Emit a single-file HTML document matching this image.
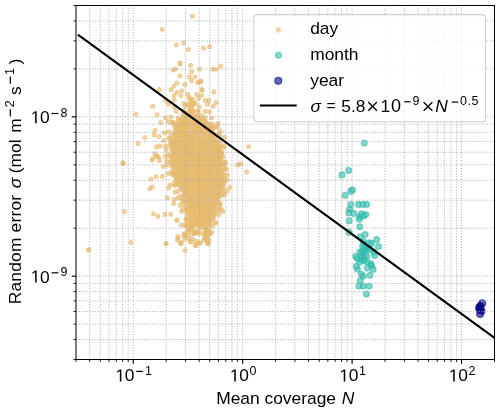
<!DOCTYPE html><html><head><meta charset="utf-8"><style>html,body{margin:0;padding:0;background:#fff;width:500px;height:413px;overflow:hidden}svg{display:block;will-change:transform}text{font-family:"Liberation Sans",sans-serif;fill:#000}</style></head><body><svg width="500" height="413" viewBox="0 0 500 413"><rect x="0" y="0" width="500" height="413" fill="#fff"/><g fill="rgb(232,189,114)" fill-opacity="0.6" stroke="rgb(232,189,114)" stroke-opacity="0.6" stroke-width="1.3"><circle cx="202.0" cy="217.1" r="1.9"/><circle cx="186.1" cy="143.6" r="1.9"/><circle cx="188.1" cy="162.6" r="1.9"/><circle cx="166.7" cy="160.8" r="1.9"/><circle cx="186.9" cy="149.6" r="1.9"/><circle cx="204.3" cy="133.4" r="1.9"/><circle cx="191.6" cy="153.6" r="1.9"/><circle cx="189.1" cy="152.3" r="1.9"/><circle cx="193.0" cy="213.8" r="1.9"/><circle cx="199.0" cy="179.1" r="1.9"/><circle cx="192.7" cy="154.3" r="1.9"/><circle cx="196.0" cy="133.6" r="1.9"/><circle cx="198.3" cy="122.5" r="1.9"/><circle cx="207.7" cy="168.1" r="1.9"/><circle cx="199.0" cy="178.9" r="1.9"/><circle cx="205.7" cy="143.6" r="1.9"/><circle cx="179.3" cy="148.6" r="1.9"/><circle cx="207.1" cy="148.1" r="1.9"/><circle cx="195.9" cy="161.7" r="1.9"/><circle cx="219.8" cy="151.3" r="1.9"/><circle cx="198.2" cy="165.1" r="1.9"/><circle cx="217.0" cy="188.7" r="1.9"/><circle cx="186.4" cy="132.3" r="1.9"/><circle cx="192.6" cy="202.0" r="1.9"/><circle cx="199.1" cy="152.2" r="1.9"/><circle cx="190.3" cy="157.3" r="1.9"/><circle cx="177.6" cy="134.5" r="1.9"/><circle cx="198.7" cy="216.0" r="1.9"/><circle cx="190.6" cy="107.0" r="1.9"/><circle cx="199.0" cy="131.1" r="1.9"/><circle cx="203.2" cy="132.8" r="1.9"/><circle cx="211.7" cy="200.1" r="1.9"/><circle cx="202.4" cy="159.2" r="1.9"/><circle cx="217.5" cy="195.4" r="1.9"/><circle cx="188.3" cy="135.2" r="1.9"/><circle cx="214.1" cy="172.3" r="1.9"/><circle cx="192.2" cy="110.5" r="1.9"/><circle cx="209.3" cy="187.7" r="1.9"/><circle cx="191.0" cy="135.4" r="1.9"/><circle cx="199.8" cy="203.9" r="1.9"/><circle cx="213.5" cy="217.6" r="1.9"/><circle cx="183.9" cy="171.6" r="1.9"/><circle cx="204.2" cy="202.0" r="1.9"/><circle cx="210.3" cy="145.0" r="1.9"/><circle cx="195.8" cy="155.1" r="1.9"/><circle cx="196.7" cy="188.8" r="1.9"/><circle cx="179.3" cy="154.5" r="1.9"/><circle cx="202.0" cy="192.0" r="1.9"/><circle cx="196.1" cy="143.7" r="1.9"/><circle cx="198.7" cy="159.1" r="1.9"/><circle cx="174.2" cy="142.3" r="1.9"/><circle cx="190.6" cy="198.0" r="1.9"/><circle cx="177.6" cy="152.6" r="1.9"/><circle cx="190.5" cy="210.3" r="1.9"/><circle cx="211.5" cy="128.1" r="1.9"/><circle cx="215.5" cy="151.5" r="1.9"/><circle cx="183.7" cy="150.8" r="1.9"/><circle cx="187.3" cy="189.0" r="1.9"/><circle cx="217.5" cy="185.0" r="1.9"/><circle cx="216.8" cy="173.3" r="1.9"/><circle cx="194.5" cy="191.2" r="1.9"/><circle cx="176.1" cy="155.1" r="1.9"/><circle cx="218.7" cy="194.7" r="1.9"/><circle cx="182.8" cy="134.7" r="1.9"/><circle cx="175.3" cy="166.7" r="1.9"/><circle cx="189.1" cy="159.5" r="1.9"/><circle cx="192.1" cy="150.1" r="1.9"/><circle cx="182.5" cy="189.3" r="1.9"/><circle cx="210.9" cy="220.9" r="1.9"/><circle cx="185.2" cy="180.5" r="1.9"/><circle cx="214.3" cy="199.3" r="1.9"/><circle cx="193.2" cy="166.7" r="1.9"/><circle cx="180.8" cy="134.8" r="1.9"/><circle cx="211.8" cy="212.2" r="1.9"/><circle cx="195.5" cy="133.5" r="1.9"/><circle cx="190.3" cy="150.6" r="1.9"/><circle cx="177.3" cy="140.1" r="1.9"/><circle cx="211.3" cy="164.3" r="1.9"/><circle cx="201.0" cy="181.9" r="1.9"/><circle cx="200.6" cy="118.4" r="1.9"/><circle cx="207.6" cy="188.8" r="1.9"/><circle cx="190.0" cy="176.9" r="1.9"/><circle cx="206.1" cy="157.4" r="1.9"/><circle cx="194.5" cy="152.0" r="1.9"/><circle cx="211.6" cy="216.7" r="1.9"/><circle cx="176.1" cy="141.1" r="1.9"/><circle cx="192.6" cy="105.5" r="1.9"/><circle cx="194.8" cy="186.2" r="1.9"/><circle cx="212.6" cy="203.6" r="1.9"/><circle cx="192.4" cy="143.6" r="1.9"/><circle cx="206.1" cy="194.6" r="1.9"/><circle cx="190.6" cy="203.1" r="1.9"/><circle cx="200.4" cy="188.5" r="1.9"/><circle cx="188.5" cy="218.8" r="1.9"/><circle cx="218.2" cy="196.7" r="1.9"/><circle cx="198.3" cy="168.5" r="1.9"/><circle cx="192.1" cy="180.3" r="1.9"/><circle cx="209.2" cy="209.1" r="1.9"/><circle cx="197.7" cy="162.1" r="1.9"/><circle cx="188.4" cy="185.3" r="1.9"/><circle cx="190.2" cy="154.7" r="1.9"/><circle cx="177.8" cy="161.1" r="1.9"/><circle cx="181.0" cy="187.4" r="1.9"/><circle cx="217.4" cy="162.9" r="1.9"/><circle cx="208.1" cy="188.1" r="1.9"/><circle cx="194.8" cy="118.5" r="1.9"/><circle cx="203.5" cy="140.0" r="1.9"/><circle cx="214.9" cy="197.0" r="1.9"/><circle cx="201.2" cy="174.4" r="1.9"/><circle cx="188.2" cy="179.6" r="1.9"/><circle cx="200.4" cy="211.0" r="1.9"/><circle cx="169.9" cy="138.5" r="1.9"/><circle cx="194.5" cy="117.5" r="1.9"/><circle cx="211.6" cy="130.6" r="1.9"/><circle cx="208.1" cy="219.9" r="1.9"/><circle cx="188.5" cy="172.8" r="1.9"/><circle cx="209.1" cy="140.7" r="1.9"/><circle cx="199.7" cy="136.9" r="1.9"/><circle cx="178.5" cy="128.3" r="1.9"/><circle cx="194.7" cy="126.8" r="1.9"/><circle cx="203.8" cy="172.0" r="1.9"/><circle cx="181.6" cy="138.4" r="1.9"/><circle cx="191.6" cy="173.6" r="1.9"/><circle cx="199.4" cy="162.2" r="1.9"/><circle cx="216.4" cy="200.5" r="1.9"/><circle cx="192.9" cy="156.7" r="1.9"/><circle cx="198.5" cy="201.4" r="1.9"/><circle cx="194.1" cy="120.9" r="1.9"/><circle cx="212.0" cy="198.4" r="1.9"/><circle cx="173.9" cy="161.8" r="1.9"/><circle cx="198.3" cy="221.0" r="1.9"/><circle cx="180.6" cy="176.8" r="1.9"/><circle cx="198.1" cy="198.9" r="1.9"/><circle cx="200.8" cy="139.0" r="1.9"/><circle cx="190.7" cy="178.0" r="1.9"/><circle cx="171.9" cy="147.2" r="1.9"/><circle cx="218.4" cy="208.6" r="1.9"/><circle cx="205.1" cy="139.2" r="1.9"/><circle cx="187.0" cy="215.2" r="1.9"/><circle cx="195.9" cy="170.8" r="1.9"/><circle cx="206.8" cy="218.4" r="1.9"/><circle cx="213.0" cy="158.0" r="1.9"/><circle cx="186.4" cy="116.6" r="1.9"/><circle cx="194.5" cy="233.4" r="1.9"/><circle cx="191.3" cy="193.0" r="1.9"/><circle cx="218.0" cy="190.7" r="1.9"/><circle cx="201.7" cy="147.8" r="1.9"/><circle cx="180.0" cy="174.9" r="1.9"/><circle cx="180.6" cy="132.9" r="1.9"/><circle cx="207.0" cy="128.2" r="1.9"/><circle cx="174.5" cy="154.0" r="1.9"/><circle cx="209.9" cy="202.4" r="1.9"/><circle cx="191.9" cy="186.6" r="1.9"/><circle cx="210.6" cy="154.4" r="1.9"/><circle cx="189.1" cy="205.5" r="1.9"/><circle cx="202.6" cy="200.1" r="1.9"/><circle cx="186.4" cy="142.1" r="1.9"/><circle cx="177.7" cy="126.2" r="1.9"/><circle cx="207.1" cy="190.7" r="1.9"/><circle cx="190.3" cy="214.7" r="1.9"/><circle cx="204.3" cy="167.9" r="1.9"/><circle cx="192.8" cy="209.7" r="1.9"/><circle cx="197.4" cy="212.6" r="1.9"/><circle cx="180.7" cy="161.5" r="1.9"/><circle cx="215.0" cy="190.5" r="1.9"/><circle cx="174.2" cy="155.5" r="1.9"/><circle cx="179.1" cy="135.5" r="1.9"/><circle cx="183.0" cy="143.1" r="1.9"/><circle cx="200.4" cy="160.2" r="1.9"/><circle cx="207.4" cy="164.4" r="1.9"/><circle cx="198.7" cy="205.8" r="1.9"/><circle cx="222.5" cy="170.9" r="1.9"/><circle cx="187.8" cy="115.7" r="1.9"/><circle cx="189.9" cy="196.4" r="1.9"/><circle cx="189.2" cy="171.4" r="1.9"/><circle cx="192.0" cy="102.1" r="1.9"/><circle cx="186.8" cy="177.9" r="1.9"/><circle cx="200.8" cy="204.1" r="1.9"/><circle cx="204.1" cy="135.7" r="1.9"/><circle cx="208.8" cy="198.7" r="1.9"/><circle cx="206.3" cy="234.7" r="1.9"/><circle cx="190.3" cy="126.7" r="1.9"/><circle cx="187.5" cy="131.0" r="1.9"/><circle cx="184.8" cy="160.3" r="1.9"/><circle cx="196.0" cy="128.1" r="1.9"/><circle cx="198.2" cy="207.8" r="1.9"/><circle cx="215.2" cy="189.8" r="1.9"/><circle cx="182.5" cy="152.0" r="1.9"/><circle cx="184.1" cy="193.4" r="1.9"/><circle cx="197.0" cy="121.4" r="1.9"/><circle cx="197.8" cy="196.4" r="1.9"/><circle cx="182.9" cy="123.9" r="1.9"/><circle cx="203.6" cy="199.1" r="1.9"/><circle cx="184.8" cy="118.0" r="1.9"/><circle cx="186.0" cy="194.5" r="1.9"/><circle cx="187.4" cy="193.9" r="1.9"/><circle cx="172.7" cy="155.2" r="1.9"/><circle cx="202.6" cy="146.3" r="1.9"/><circle cx="188.2" cy="123.6" r="1.9"/><circle cx="209.6" cy="216.4" r="1.9"/><circle cx="201.8" cy="183.4" r="1.9"/><circle cx="191.5" cy="112.5" r="1.9"/><circle cx="210.7" cy="192.6" r="1.9"/><circle cx="188.8" cy="124.4" r="1.9"/><circle cx="179.4" cy="149.6" r="1.9"/><circle cx="173.2" cy="146.0" r="1.9"/><circle cx="215.5" cy="185.5" r="1.9"/><circle cx="209.1" cy="222.8" r="1.9"/><circle cx="204.6" cy="149.5" r="1.9"/><circle cx="213.1" cy="135.6" r="1.9"/><circle cx="183.1" cy="149.6" r="1.9"/><circle cx="212.7" cy="192.0" r="1.9"/><circle cx="218.4" cy="173.6" r="1.9"/><circle cx="178.6" cy="169.9" r="1.9"/><circle cx="215.3" cy="203.4" r="1.9"/><circle cx="217.5" cy="144.9" r="1.9"/><circle cx="199.3" cy="128.5" r="1.9"/><circle cx="200.2" cy="184.2" r="1.9"/><circle cx="214.6" cy="182.8" r="1.9"/><circle cx="215.1" cy="143.7" r="1.9"/><circle cx="194.1" cy="158.5" r="1.9"/><circle cx="223.7" cy="145.8" r="1.9"/><circle cx="210.1" cy="167.7" r="1.9"/><circle cx="214.2" cy="170.3" r="1.9"/><circle cx="212.6" cy="133.4" r="1.9"/><circle cx="202.2" cy="190.1" r="1.9"/><circle cx="191.5" cy="161.1" r="1.9"/><circle cx="184.0" cy="110.5" r="1.9"/><circle cx="173.4" cy="162.2" r="1.9"/><circle cx="172.5" cy="174.3" r="1.9"/><circle cx="183.3" cy="170.7" r="1.9"/><circle cx="209.2" cy="217.8" r="1.9"/><circle cx="208.0" cy="141.4" r="1.9"/><circle cx="199.9" cy="180.8" r="1.9"/><circle cx="195.2" cy="203.1" r="1.9"/><circle cx="191.2" cy="219.0" r="1.9"/><circle cx="196.7" cy="210.0" r="1.9"/><circle cx="220.1" cy="162.4" r="1.9"/><circle cx="195.1" cy="139.2" r="1.9"/><circle cx="177.8" cy="136.7" r="1.9"/><circle cx="222.2" cy="165.5" r="1.9"/><circle cx="206.1" cy="173.4" r="1.9"/><circle cx="190.0" cy="189.0" r="1.9"/><circle cx="203.5" cy="174.5" r="1.9"/><circle cx="188.8" cy="229.4" r="1.9"/><circle cx="196.0" cy="218.7" r="1.9"/><circle cx="210.5" cy="206.4" r="1.9"/><circle cx="218.5" cy="152.9" r="1.9"/><circle cx="212.4" cy="218.8" r="1.9"/><circle cx="201.5" cy="120.7" r="1.9"/><circle cx="206.4" cy="194.2" r="1.9"/><circle cx="201.7" cy="150.0" r="1.9"/><circle cx="201.5" cy="175.5" r="1.9"/><circle cx="177.6" cy="130.8" r="1.9"/><circle cx="196.1" cy="185.2" r="1.9"/><circle cx="199.8" cy="144.1" r="1.9"/><circle cx="175.8" cy="171.9" r="1.9"/><circle cx="190.7" cy="171.6" r="1.9"/><circle cx="208.1" cy="190.9" r="1.9"/><circle cx="206.4" cy="149.5" r="1.9"/><circle cx="176.3" cy="125.1" r="1.9"/><circle cx="203.8" cy="166.3" r="1.9"/><circle cx="192.2" cy="146.7" r="1.9"/><circle cx="216.5" cy="173.1" r="1.9"/><circle cx="187.2" cy="118.3" r="1.9"/><circle cx="200.1" cy="185.3" r="1.9"/><circle cx="190.9" cy="162.1" r="1.9"/><circle cx="216.2" cy="145.7" r="1.9"/><circle cx="203.7" cy="195.7" r="1.9"/><circle cx="217.1" cy="171.3" r="1.9"/><circle cx="214.1" cy="163.9" r="1.9"/><circle cx="170.9" cy="165.6" r="1.9"/><circle cx="184.4" cy="131.0" r="1.9"/><circle cx="192.5" cy="213.4" r="1.9"/><circle cx="187.9" cy="137.4" r="1.9"/><circle cx="202.0" cy="224.6" r="1.9"/><circle cx="171.5" cy="172.3" r="1.9"/><circle cx="188.7" cy="155.9" r="1.9"/><circle cx="206.0" cy="185.2" r="1.9"/><circle cx="214.5" cy="160.5" r="1.9"/><circle cx="206.3" cy="238.8" r="1.9"/><circle cx="210.2" cy="160.8" r="1.9"/><circle cx="213.9" cy="140.7" r="1.9"/><circle cx="203.3" cy="192.6" r="1.9"/><circle cx="183.0" cy="157.9" r="1.9"/><circle cx="177.9" cy="191.3" r="1.9"/><circle cx="201.0" cy="148.8" r="1.9"/><circle cx="217.2" cy="177.5" r="1.9"/><circle cx="192.8" cy="159.9" r="1.9"/><circle cx="189.2" cy="200.8" r="1.9"/><circle cx="204.1" cy="201.5" r="1.9"/><circle cx="227.6" cy="190.9" r="1.9"/><circle cx="219.0" cy="148.5" r="1.9"/><circle cx="184.5" cy="157.3" r="1.9"/><circle cx="201.5" cy="168.1" r="1.9"/><circle cx="197.4" cy="231.6" r="1.9"/><circle cx="202.3" cy="118.0" r="1.9"/><circle cx="217.5" cy="151.3" r="1.9"/><circle cx="170.0" cy="145.1" r="1.9"/><circle cx="208.2" cy="203.9" r="1.9"/><circle cx="193.4" cy="173.8" r="1.9"/><circle cx="201.7" cy="209.6" r="1.9"/><circle cx="189.3" cy="134.0" r="1.9"/><circle cx="183.0" cy="176.1" r="1.9"/><circle cx="208.6" cy="234.0" r="1.9"/><circle cx="206.9" cy="183.5" r="1.9"/><circle cx="214.6" cy="179.1" r="1.9"/><circle cx="188.6" cy="184.1" r="1.9"/><circle cx="172.8" cy="145.5" r="1.9"/><circle cx="200.6" cy="154.3" r="1.9"/><circle cx="210.2" cy="157.4" r="1.9"/><circle cx="215.0" cy="174.9" r="1.9"/><circle cx="209.9" cy="173.1" r="1.9"/><circle cx="181.2" cy="169.2" r="1.9"/><circle cx="169.0" cy="138.0" r="1.9"/><circle cx="196.4" cy="179.9" r="1.9"/><circle cx="222.3" cy="178.1" r="1.9"/><circle cx="185.9" cy="185.7" r="1.9"/><circle cx="191.9" cy="123.4" r="1.9"/><circle cx="213.8" cy="179.9" r="1.9"/><circle cx="208.0" cy="226.2" r="1.9"/><circle cx="203.2" cy="202.4" r="1.9"/><circle cx="212.8" cy="156.3" r="1.9"/><circle cx="180.9" cy="164.4" r="1.9"/><circle cx="212.0" cy="189.5" r="1.9"/><circle cx="189.8" cy="224.9" r="1.9"/><circle cx="186.7" cy="221.0" r="1.9"/><circle cx="216.9" cy="198.7" r="1.9"/><circle cx="215.6" cy="212.5" r="1.9"/><circle cx="181.7" cy="135.7" r="1.9"/><circle cx="213.6" cy="196.2" r="1.9"/><circle cx="213.0" cy="166.2" r="1.9"/><circle cx="203.5" cy="171.3" r="1.9"/><circle cx="205.7" cy="199.4" r="1.9"/><circle cx="186.1" cy="140.4" r="1.9"/><circle cx="193.3" cy="124.1" r="1.9"/><circle cx="192.4" cy="230.1" r="1.9"/><circle cx="208.1" cy="137.2" r="1.9"/><circle cx="200.9" cy="198.1" r="1.9"/><circle cx="205.3" cy="232.3" r="1.9"/><circle cx="208.8" cy="131.3" r="1.9"/><circle cx="199.8" cy="223.3" r="1.9"/><circle cx="179.1" cy="164.7" r="1.9"/><circle cx="192.7" cy="168.0" r="1.9"/><circle cx="217.5" cy="156.6" r="1.9"/><circle cx="209.8" cy="137.8" r="1.9"/><circle cx="186.7" cy="200.6" r="1.9"/><circle cx="187.3" cy="195.0" r="1.9"/><circle cx="175.5" cy="159.5" r="1.9"/><circle cx="227.5" cy="180.1" r="1.9"/><circle cx="218.6" cy="181.3" r="1.9"/><circle cx="187.4" cy="153.1" r="1.9"/><circle cx="177.2" cy="159.4" r="1.9"/><circle cx="199.6" cy="133.0" r="1.9"/><circle cx="217.3" cy="142.5" r="1.9"/><circle cx="173.5" cy="167.5" r="1.9"/><circle cx="175.2" cy="152.1" r="1.9"/><circle cx="189.6" cy="168.3" r="1.9"/><circle cx="187.6" cy="184.0" r="1.9"/><circle cx="175.1" cy="185.6" r="1.9"/><circle cx="174.9" cy="137.1" r="1.9"/><circle cx="179.6" cy="142.9" r="1.9"/><circle cx="198.2" cy="205.1" r="1.9"/><circle cx="179.5" cy="169.2" r="1.9"/><circle cx="222.4" cy="194.4" r="1.9"/><circle cx="190.3" cy="177.0" r="1.9"/><circle cx="203.8" cy="147.9" r="1.9"/><circle cx="215.9" cy="148.9" r="1.9"/><circle cx="218.2" cy="181.5" r="1.9"/><circle cx="209.6" cy="163.8" r="1.9"/><circle cx="196.8" cy="200.8" r="1.9"/><circle cx="201.0" cy="130.1" r="1.9"/><circle cx="211.2" cy="194.1" r="1.9"/><circle cx="184.8" cy="137.5" r="1.9"/><circle cx="197.9" cy="138.1" r="1.9"/><circle cx="171.5" cy="141.7" r="1.9"/><circle cx="212.7" cy="169.8" r="1.9"/><circle cx="190.0" cy="150.4" r="1.9"/><circle cx="212.6" cy="187.4" r="1.9"/><circle cx="219.2" cy="193.1" r="1.9"/><circle cx="210.2" cy="214.0" r="1.9"/><circle cx="193.2" cy="216.4" r="1.9"/><circle cx="201.4" cy="129.4" r="1.9"/><circle cx="198.1" cy="190.6" r="1.9"/><circle cx="204.9" cy="192.7" r="1.9"/><circle cx="207.3" cy="144.3" r="1.9"/><circle cx="188.4" cy="177.7" r="1.9"/><circle cx="200.1" cy="208.2" r="1.9"/><circle cx="210.8" cy="126.9" r="1.9"/><circle cx="224.7" cy="178.5" r="1.9"/><circle cx="191.7" cy="132.3" r="1.9"/><circle cx="192.3" cy="112.7" r="1.9"/><circle cx="202.8" cy="155.1" r="1.9"/><circle cx="208.8" cy="221.8" r="1.9"/><circle cx="207.3" cy="177.9" r="1.9"/><circle cx="190.6" cy="222.5" r="1.9"/><circle cx="183.6" cy="168.5" r="1.9"/><circle cx="215.7" cy="154.9" r="1.9"/><circle cx="208.4" cy="167.6" r="1.9"/><circle cx="177.5" cy="143.9" r="1.9"/><circle cx="199.6" cy="143.6" r="1.9"/><circle cx="195.3" cy="137.4" r="1.9"/><circle cx="194.8" cy="232.6" r="1.9"/><circle cx="215.8" cy="135.9" r="1.9"/><circle cx="210.8" cy="191.3" r="1.9"/><circle cx="190.2" cy="137.2" r="1.9"/><circle cx="194.0" cy="133.9" r="1.9"/><circle cx="208.5" cy="182.4" r="1.9"/><circle cx="193.4" cy="137.5" r="1.9"/><circle cx="175.9" cy="145.5" r="1.9"/><circle cx="180.3" cy="155.0" r="1.9"/><circle cx="191.4" cy="183.4" r="1.9"/><circle cx="203.5" cy="151.0" r="1.9"/><circle cx="192.0" cy="120.2" r="1.9"/><circle cx="186.3" cy="196.6" r="1.9"/><circle cx="180.0" cy="178.3" r="1.9"/><circle cx="213.7" cy="197.3" r="1.9"/><circle cx="205.1" cy="143.7" r="1.9"/><circle cx="193.8" cy="169.9" r="1.9"/><circle cx="180.7" cy="121.8" r="1.9"/><circle cx="209.6" cy="147.1" r="1.9"/><circle cx="196.9" cy="186.9" r="1.9"/><circle cx="186.6" cy="207.1" r="1.9"/><circle cx="221.1" cy="162.1" r="1.9"/><circle cx="217.5" cy="188.1" r="1.9"/><circle cx="195.1" cy="164.4" r="1.9"/><circle cx="183.0" cy="128.4" r="1.9"/><circle cx="196.8" cy="118.4" r="1.9"/><circle cx="204.3" cy="155.0" r="1.9"/><circle cx="190.2" cy="147.4" r="1.9"/><circle cx="203.9" cy="176.7" r="1.9"/><circle cx="173.0" cy="150.4" r="1.9"/><circle cx="213.8" cy="205.7" r="1.9"/><circle cx="203.4" cy="168.1" r="1.9"/><circle cx="185.3" cy="119.6" r="1.9"/><circle cx="205.5" cy="212.7" r="1.9"/><circle cx="186.6" cy="225.8" r="1.9"/><circle cx="222.5" cy="178.1" r="1.9"/><circle cx="219.7" cy="169.7" r="1.9"/><circle cx="201.9" cy="206.4" r="1.9"/><circle cx="211.3" cy="184.8" r="1.9"/><circle cx="199.8" cy="171.0" r="1.9"/><circle cx="187.8" cy="224.1" r="1.9"/><circle cx="203.6" cy="178.2" r="1.9"/><circle cx="186.0" cy="150.8" r="1.9"/><circle cx="222.3" cy="186.3" r="1.9"/><circle cx="177.3" cy="155.8" r="1.9"/><circle cx="180.1" cy="173.4" r="1.9"/><circle cx="210.1" cy="142.1" r="1.9"/><circle cx="195.8" cy="188.7" r="1.9"/><circle cx="173.3" cy="148.2" r="1.9"/><circle cx="202.3" cy="219.2" r="1.9"/><circle cx="218.4" cy="158.6" r="1.9"/><circle cx="187.7" cy="199.1" r="1.9"/><circle cx="216.1" cy="176.5" r="1.9"/><circle cx="204.4" cy="163.9" r="1.9"/><circle cx="193.9" cy="205.2" r="1.9"/><circle cx="192.2" cy="125.6" r="1.9"/><circle cx="213.9" cy="206.5" r="1.9"/><circle cx="197.5" cy="195.2" r="1.9"/><circle cx="193.5" cy="225.6" r="1.9"/><circle cx="196.8" cy="138.3" r="1.9"/><circle cx="186.4" cy="120.5" r="1.9"/><circle cx="209.8" cy="195.4" r="1.9"/><circle cx="203.7" cy="181.7" r="1.9"/><circle cx="205.1" cy="184.3" r="1.9"/><circle cx="203.3" cy="129.0" r="1.9"/><circle cx="189.6" cy="137.7" r="1.9"/><circle cx="191.2" cy="224.0" r="1.9"/><circle cx="184.0" cy="180.3" r="1.9"/><circle cx="185.4" cy="159.3" r="1.9"/><circle cx="197.0" cy="223.1" r="1.9"/><circle cx="191.2" cy="129.8" r="1.9"/><circle cx="200.7" cy="211.6" r="1.9"/><circle cx="209.6" cy="130.3" r="1.9"/><circle cx="203.5" cy="135.4" r="1.9"/><circle cx="222.0" cy="187.1" r="1.9"/><circle cx="191.5" cy="190.1" r="1.9"/><circle cx="198.6" cy="154.2" r="1.9"/><circle cx="183.5" cy="156.3" r="1.9"/><circle cx="202.3" cy="143.1" r="1.9"/><circle cx="205.5" cy="127.0" r="1.9"/><circle cx="189.2" cy="181.0" r="1.9"/><circle cx="215.3" cy="223.2" r="1.9"/><circle cx="190.1" cy="194.3" r="1.9"/><circle cx="206.8" cy="125.5" r="1.9"/><circle cx="189.5" cy="199.0" r="1.9"/><circle cx="199.6" cy="151.3" r="1.9"/><circle cx="211.5" cy="182.6" r="1.9"/><circle cx="209.2" cy="211.8" r="1.9"/><circle cx="218.8" cy="183.0" r="1.9"/><circle cx="211.0" cy="178.3" r="1.9"/><circle cx="168.0" cy="154.6" r="1.9"/><circle cx="211.5" cy="179.4" r="1.9"/><circle cx="186.7" cy="219.7" r="1.9"/><circle cx="194.1" cy="199.5" r="1.9"/><circle cx="220.4" cy="185.6" r="1.9"/><circle cx="178.0" cy="168.9" r="1.9"/><circle cx="184.2" cy="185.1" r="1.9"/><circle cx="205.2" cy="117.3" r="1.9"/><circle cx="214.9" cy="141.9" r="1.9"/><circle cx="201.0" cy="214.4" r="1.9"/><circle cx="188.3" cy="153.1" r="1.9"/><circle cx="205.3" cy="146.6" r="1.9"/><circle cx="184.5" cy="225.2" r="1.9"/><circle cx="190.3" cy="199.9" r="1.9"/><circle cx="209.6" cy="175.8" r="1.9"/><circle cx="188.6" cy="230.1" r="1.9"/><circle cx="190.1" cy="195.2" r="1.9"/><circle cx="193.4" cy="160.9" r="1.9"/><circle cx="199.5" cy="195.9" r="1.9"/><circle cx="198.9" cy="184.7" r="1.9"/><circle cx="199.6" cy="182.2" r="1.9"/><circle cx="210.0" cy="173.6" r="1.9"/><circle cx="179.4" cy="158.1" r="1.9"/><circle cx="196.1" cy="191.9" r="1.9"/><circle cx="213.0" cy="128.7" r="1.9"/><circle cx="203.8" cy="129.8" r="1.9"/><circle cx="185.0" cy="235.1" r="1.9"/><circle cx="192.3" cy="208.7" r="1.9"/><circle cx="205.7" cy="176.2" r="1.9"/><circle cx="196.8" cy="220.5" r="1.9"/><circle cx="195.9" cy="208.1" r="1.9"/><circle cx="184.4" cy="173.2" r="1.9"/><circle cx="217.8" cy="160.9" r="1.9"/><circle cx="204.9" cy="158.5" r="1.9"/><circle cx="224.3" cy="180.8" r="1.9"/><circle cx="175.8" cy="161.9" r="1.9"/><circle cx="197.7" cy="111.2" r="1.9"/><circle cx="184.7" cy="133.3" r="1.9"/><circle cx="175.6" cy="180.9" r="1.9"/><circle cx="188.8" cy="147.5" r="1.9"/><circle cx="201.9" cy="211.9" r="1.9"/><circle cx="215.0" cy="179.1" r="1.9"/><circle cx="187.1" cy="169.6" r="1.9"/><circle cx="202.4" cy="131.2" r="1.9"/><circle cx="215.2" cy="167.7" r="1.9"/><circle cx="218.1" cy="141.0" r="1.9"/><circle cx="206.9" cy="143.1" r="1.9"/><circle cx="176.8" cy="184.0" r="1.9"/><circle cx="196.6" cy="222.7" r="1.9"/><circle cx="192.6" cy="165.7" r="1.9"/><circle cx="213.9" cy="201.3" r="1.9"/><circle cx="209.3" cy="150.4" r="1.9"/><circle cx="203.6" cy="142.9" r="1.9"/><circle cx="216.1" cy="192.6" r="1.9"/><circle cx="187.5" cy="231.4" r="1.9"/><circle cx="182.6" cy="176.8" r="1.9"/><circle cx="176.3" cy="134.2" r="1.9"/><circle cx="195.3" cy="170.8" r="1.9"/><circle cx="195.1" cy="131.0" r="1.9"/><circle cx="204.7" cy="221.5" r="1.9"/><circle cx="204.2" cy="213.7" r="1.9"/><circle cx="202.4" cy="178.6" r="1.9"/><circle cx="203.1" cy="196.2" r="1.9"/><circle cx="208.6" cy="183.0" r="1.9"/><circle cx="188.8" cy="97.1" r="1.9"/><circle cx="211.2" cy="149.8" r="1.9"/><circle cx="189.6" cy="145.4" r="1.9"/><circle cx="182.8" cy="160.1" r="1.9"/><circle cx="186.3" cy="164.9" r="1.9"/><circle cx="193.3" cy="162.4" r="1.9"/><circle cx="208.0" cy="139.2" r="1.9"/><circle cx="190.8" cy="146.2" r="1.9"/><circle cx="208.1" cy="195.3" r="1.9"/><circle cx="202.4" cy="200.7" r="1.9"/><circle cx="184.0" cy="161.6" r="1.9"/><circle cx="209.7" cy="189.6" r="1.9"/><circle cx="220.6" cy="154.8" r="1.9"/><circle cx="194.4" cy="219.5" r="1.9"/><circle cx="187.2" cy="156.5" r="1.9"/><circle cx="213.3" cy="148.1" r="1.9"/><circle cx="189.1" cy="133.0" r="1.9"/><circle cx="185.5" cy="211.1" r="1.9"/><circle cx="203.7" cy="197.7" r="1.9"/><circle cx="206.8" cy="139.4" r="1.9"/><circle cx="221.4" cy="152.6" r="1.9"/><circle cx="220.1" cy="153.8" r="1.9"/><circle cx="197.9" cy="230.5" r="1.9"/><circle cx="199.4" cy="187.7" r="1.9"/><circle cx="179.3" cy="131.4" r="1.9"/><circle cx="192.7" cy="173.3" r="1.9"/><circle cx="186.0" cy="183.4" r="1.9"/><circle cx="190.4" cy="117.8" r="1.9"/><circle cx="208.2" cy="210.4" r="1.9"/><circle cx="183.8" cy="122.2" r="1.9"/><circle cx="191.9" cy="159.9" r="1.9"/><circle cx="176.4" cy="130.1" r="1.9"/><circle cx="209.2" cy="172.4" r="1.9"/><circle cx="194.5" cy="218.5" r="1.9"/><circle cx="219.0" cy="191.7" r="1.9"/><circle cx="212.0" cy="197.3" r="1.9"/><circle cx="217.4" cy="169.5" r="1.9"/><circle cx="179.0" cy="124.0" r="1.9"/><circle cx="206.8" cy="231.6" r="1.9"/><circle cx="189.7" cy="164.2" r="1.9"/><circle cx="194.1" cy="152.9" r="1.9"/><circle cx="205.8" cy="179.3" r="1.9"/><circle cx="205.9" cy="220.0" r="1.9"/><circle cx="207.5" cy="152.3" r="1.9"/><circle cx="189.1" cy="187.5" r="1.9"/><circle cx="192.9" cy="118.5" r="1.9"/><circle cx="204.3" cy="146.3" r="1.9"/><circle cx="191.0" cy="139.8" r="1.9"/><circle cx="218.7" cy="180.9" r="1.9"/><circle cx="197.7" cy="214.7" r="1.9"/><circle cx="218.6" cy="210.3" r="1.9"/><circle cx="209.1" cy="148.1" r="1.9"/><circle cx="206.0" cy="198.0" r="1.9"/><circle cx="195.5" cy="103.6" r="1.9"/><circle cx="199.7" cy="212.7" r="1.9"/><circle cx="188.7" cy="213.8" r="1.9"/><circle cx="213.8" cy="183.3" r="1.9"/><circle cx="218.6" cy="176.0" r="1.9"/><circle cx="196.1" cy="173.1" r="1.9"/><circle cx="192.4" cy="177.6" r="1.9"/><circle cx="193.7" cy="179.5" r="1.9"/><circle cx="223.4" cy="188.0" r="1.9"/><circle cx="194.1" cy="209.3" r="1.9"/><circle cx="184.9" cy="177.1" r="1.9"/><circle cx="218.4" cy="148.3" r="1.9"/><circle cx="195.7" cy="168.0" r="1.9"/><circle cx="205.4" cy="216.7" r="1.9"/><circle cx="179.0" cy="139.4" r="1.9"/><circle cx="192.4" cy="140.2" r="1.9"/><circle cx="223.3" cy="191.3" r="1.9"/><circle cx="195.5" cy="125.3" r="1.9"/><circle cx="185.2" cy="105.7" r="1.9"/><circle cx="170.5" cy="162.6" r="1.9"/><circle cx="185.4" cy="133.5" r="1.9"/><circle cx="216.4" cy="164.9" r="1.9"/><circle cx="190.2" cy="164.7" r="1.9"/><circle cx="208.9" cy="153.8" r="1.9"/><circle cx="203.2" cy="161.2" r="1.9"/><circle cx="195.9" cy="216.3" r="1.9"/><circle cx="204.4" cy="205.0" r="1.9"/><circle cx="194.8" cy="179.6" r="1.9"/><circle cx="200.0" cy="219.0" r="1.9"/><circle cx="214.7" cy="138.9" r="1.9"/><circle cx="173.0" cy="153.9" r="1.9"/><circle cx="195.8" cy="214.0" r="1.9"/><circle cx="205.4" cy="229.8" r="1.9"/><circle cx="191.5" cy="217.1" r="1.9"/><circle cx="189.1" cy="126.5" r="1.9"/><circle cx="219.1" cy="196.4" r="1.9"/><circle cx="190.2" cy="110.0" r="1.9"/><circle cx="175.1" cy="144.8" r="1.9"/><circle cx="210.9" cy="128.9" r="1.9"/><circle cx="186.2" cy="127.4" r="1.9"/><circle cx="214.3" cy="215.2" r="1.9"/><circle cx="193.3" cy="127.8" r="1.9"/><circle cx="182.5" cy="201.1" r="1.9"/><circle cx="177.2" cy="172.0" r="1.9"/><circle cx="201.7" cy="172.6" r="1.9"/><circle cx="205.5" cy="155.9" r="1.9"/><circle cx="205.1" cy="235.8" r="1.9"/><circle cx="196.7" cy="123.5" r="1.9"/><circle cx="187.1" cy="182.9" r="1.9"/><circle cx="208.1" cy="194.3" r="1.9"/><circle cx="208.8" cy="186.5" r="1.9"/><circle cx="194.0" cy="222.2" r="1.9"/><circle cx="186.7" cy="113.0" r="1.9"/><circle cx="197.7" cy="175.1" r="1.9"/><circle cx="176.5" cy="163.9" r="1.9"/><circle cx="215.2" cy="206.6" r="1.9"/><circle cx="197.4" cy="165.3" r="1.9"/><circle cx="189.8" cy="206.6" r="1.9"/><circle cx="219.0" cy="201.9" r="1.9"/><circle cx="202.7" cy="175.0" r="1.9"/><circle cx="178.9" cy="179.5" r="1.9"/><circle cx="178.8" cy="120.0" r="1.9"/><circle cx="177.8" cy="167.6" r="1.9"/><circle cx="192.7" cy="217.4" r="1.9"/><circle cx="175.2" cy="157.8" r="1.9"/><circle cx="196.1" cy="168.3" r="1.9"/><circle cx="224.8" cy="168.2" r="1.9"/><circle cx="214.4" cy="188.3" r="1.9"/><circle cx="192.0" cy="149.9" r="1.9"/><circle cx="198.0" cy="154.5" r="1.9"/><circle cx="221.9" cy="153.2" r="1.9"/><circle cx="212.0" cy="161.3" r="1.9"/><circle cx="202.2" cy="209.2" r="1.9"/><circle cx="209.3" cy="183.0" r="1.9"/><circle cx="194.5" cy="231.8" r="1.9"/><circle cx="224.7" cy="175.5" r="1.9"/><circle cx="183.2" cy="204.6" r="1.9"/><circle cx="184.5" cy="146.3" r="1.9"/><circle cx="182.5" cy="173.3" r="1.9"/><circle cx="195.4" cy="195.6" r="1.9"/><circle cx="205.3" cy="121.5" r="1.9"/><circle cx="220.2" cy="159.4" r="1.9"/><circle cx="177.7" cy="148.7" r="1.9"/><circle cx="197.6" cy="213.5" r="1.9"/><circle cx="193.9" cy="102.8" r="1.9"/><circle cx="203.8" cy="212.3" r="1.9"/><circle cx="203.5" cy="185.1" r="1.9"/><circle cx="194.1" cy="162.9" r="1.9"/><circle cx="215.8" cy="183.9" r="1.9"/><circle cx="221.5" cy="183.4" r="1.9"/><circle cx="203.1" cy="170.3" r="1.9"/><circle cx="194.5" cy="149.8" r="1.9"/><circle cx="217.2" cy="181.0" r="1.9"/><circle cx="187.8" cy="148.5" r="1.9"/><circle cx="206.1" cy="152.9" r="1.9"/><circle cx="224.1" cy="147.3" r="1.9"/><circle cx="198.3" cy="210.8" r="1.9"/><circle cx="181.6" cy="130.2" r="1.9"/><circle cx="205.9" cy="205.2" r="1.9"/><circle cx="215.9" cy="160.2" r="1.9"/><circle cx="194.0" cy="181.3" r="1.9"/><circle cx="192.4" cy="136.4" r="1.9"/><circle cx="187.8" cy="155.1" r="1.9"/><circle cx="207.0" cy="161.7" r="1.9"/><circle cx="192.9" cy="220.1" r="1.9"/><circle cx="213.6" cy="165.9" r="1.9"/><circle cx="186.4" cy="188.2" r="1.9"/><circle cx="186.1" cy="153.4" r="1.9"/><circle cx="190.0" cy="99.3" r="1.9"/><circle cx="209.7" cy="223.2" r="1.9"/><circle cx="196.7" cy="178.9" r="1.9"/><circle cx="195.8" cy="175.6" r="1.9"/><circle cx="196.0" cy="157.0" r="1.9"/><circle cx="187.8" cy="208.1" r="1.9"/><circle cx="204.7" cy="206.5" r="1.9"/><circle cx="204.7" cy="129.6" r="1.9"/><circle cx="198.5" cy="145.0" r="1.9"/><circle cx="204.1" cy="122.4" r="1.9"/><circle cx="190.0" cy="122.8" r="1.9"/><circle cx="221.4" cy="189.3" r="1.9"/><circle cx="166.0" cy="149.9" r="1.9"/><circle cx="183.0" cy="139.4" r="1.9"/><circle cx="180.4" cy="139.2" r="1.9"/><circle cx="177.7" cy="133.5" r="1.9"/><circle cx="205.3" cy="170.9" r="1.9"/><circle cx="192.4" cy="223.4" r="1.9"/><circle cx="196.2" cy="155.9" r="1.9"/><circle cx="207.9" cy="158.9" r="1.9"/><circle cx="171.2" cy="161.3" r="1.9"/><circle cx="214.1" cy="150.7" r="1.9"/><circle cx="175.4" cy="175.4" r="1.9"/><circle cx="213.3" cy="154.9" r="1.9"/><circle cx="193.5" cy="201.4" r="1.9"/><circle cx="178.7" cy="182.0" r="1.9"/><circle cx="212.6" cy="168.3" r="1.9"/><circle cx="194.3" cy="166.5" r="1.9"/><circle cx="204.5" cy="180.5" r="1.9"/><circle cx="178.3" cy="152.0" r="1.9"/><circle cx="218.1" cy="192.8" r="1.9"/><circle cx="173.4" cy="133.9" r="1.9"/><circle cx="166.1" cy="165.2" r="1.9"/><circle cx="202.9" cy="165.9" r="1.9"/><circle cx="196.1" cy="205.1" r="1.9"/><circle cx="211.5" cy="163.8" r="1.9"/><circle cx="213.8" cy="144.7" r="1.9"/><circle cx="199.5" cy="157.0" r="1.9"/><circle cx="215.1" cy="195.5" r="1.9"/><circle cx="211.1" cy="158.6" r="1.9"/><circle cx="169.5" cy="155.9" r="1.9"/><circle cx="206.0" cy="207.8" r="1.9"/><circle cx="207.1" cy="131.0" r="1.9"/><circle cx="218.7" cy="172.1" r="1.9"/><circle cx="187.7" cy="151.1" r="1.9"/><circle cx="206.9" cy="202.4" r="1.9"/><circle cx="216.7" cy="157.1" r="1.9"/><circle cx="203.9" cy="153.9" r="1.9"/><circle cx="200.6" cy="173.1" r="1.9"/><circle cx="176.8" cy="169.5" r="1.9"/><circle cx="198.6" cy="221.0" r="1.9"/><circle cx="215.2" cy="181.0" r="1.9"/><circle cx="174.1" cy="152.4" r="1.9"/><circle cx="198.2" cy="193.6" r="1.9"/><circle cx="209.8" cy="139.9" r="1.9"/><circle cx="185.8" cy="177.5" r="1.9"/><circle cx="212.6" cy="123.9" r="1.9"/><circle cx="217.2" cy="126.7" r="1.9"/><circle cx="206.0" cy="159.2" r="1.9"/><circle cx="206.5" cy="189.2" r="1.9"/><circle cx="177.1" cy="157.7" r="1.9"/><circle cx="183.6" cy="196.2" r="1.9"/><circle cx="206.1" cy="168.5" r="1.9"/><circle cx="193.9" cy="186.0" r="1.9"/><circle cx="208.6" cy="126.9" r="1.9"/><circle cx="183.1" cy="162.5" r="1.9"/><circle cx="183.0" cy="136.2" r="1.9"/><circle cx="218.2" cy="155.7" r="1.9"/><circle cx="193.6" cy="151.0" r="1.9"/><circle cx="183.6" cy="148.3" r="1.9"/><circle cx="209.6" cy="132.4" r="1.9"/><circle cx="197.4" cy="175.2" r="1.9"/><circle cx="198.2" cy="196.5" r="1.9"/><circle cx="183.2" cy="152.8" r="1.9"/><circle cx="178.8" cy="135.5" r="1.9"/><circle cx="222.9" cy="156.7" r="1.9"/><circle cx="205.8" cy="221.3" r="1.9"/><circle cx="200.6" cy="201.5" r="1.9"/><circle cx="185.7" cy="148.0" r="1.9"/><circle cx="201.3" cy="193.4" r="1.9"/><circle cx="223.8" cy="164.6" r="1.9"/><circle cx="196.4" cy="184.2" r="1.9"/><circle cx="205.0" cy="127.8" r="1.9"/><circle cx="173.6" cy="140.5" r="1.9"/><circle cx="210.3" cy="180.9" r="1.9"/><circle cx="179.2" cy="128.7" r="1.9"/><circle cx="187.6" cy="139.6" r="1.9"/><circle cx="202.5" cy="221.0" r="1.9"/><circle cx="182.3" cy="170.9" r="1.9"/><circle cx="213.9" cy="190.5" r="1.9"/><circle cx="191.3" cy="138.5" r="1.9"/><circle cx="201.1" cy="207.5" r="1.9"/><circle cx="175.2" cy="129.5" r="1.9"/><circle cx="205.1" cy="217.3" r="1.9"/><circle cx="212.2" cy="140.9" r="1.9"/><circle cx="205.3" cy="188.1" r="1.9"/><circle cx="211.4" cy="142.4" r="1.9"/><circle cx="184.4" cy="155.4" r="1.9"/><circle cx="178.2" cy="122.6" r="1.9"/><circle cx="208.5" cy="201.4" r="1.9"/><circle cx="175.4" cy="147.3" r="1.9"/><circle cx="207.6" cy="150.5" r="1.9"/><circle cx="200.9" cy="167.4" r="1.9"/><circle cx="201.0" cy="115.4" r="1.9"/><circle cx="193.7" cy="206.2" r="1.9"/><circle cx="189.4" cy="104.1" r="1.9"/><circle cx="203.5" cy="197.4" r="1.9"/><circle cx="207.2" cy="134.8" r="1.9"/><circle cx="175.6" cy="175.9" r="1.9"/><circle cx="191.1" cy="228.7" r="1.9"/><circle cx="187.5" cy="167.5" r="1.9"/><circle cx="188.3" cy="210.9" r="1.9"/><circle cx="214.9" cy="199.5" r="1.9"/><circle cx="196.8" cy="142.0" r="1.9"/><circle cx="185.1" cy="130.3" r="1.9"/><circle cx="197.6" cy="130.9" r="1.9"/><circle cx="201.6" cy="163.9" r="1.9"/><circle cx="221.7" cy="175.4" r="1.9"/><circle cx="191.1" cy="228.2" r="1.9"/><circle cx="210.7" cy="199.0" r="1.9"/><circle cx="192.7" cy="192.3" r="1.9"/><circle cx="207.0" cy="136.5" r="1.9"/><circle cx="182.6" cy="155.3" r="1.9"/><circle cx="180.1" cy="145.5" r="1.9"/><circle cx="185.7" cy="167.5" r="1.9"/><circle cx="202.0" cy="152.5" r="1.9"/><circle cx="222.8" cy="183.5" r="1.9"/><circle cx="184.9" cy="137.1" r="1.9"/><circle cx="221.2" cy="147.9" r="1.9"/><circle cx="200.1" cy="156.4" r="1.9"/><circle cx="194.9" cy="200.5" r="1.9"/><circle cx="188.7" cy="182.5" r="1.9"/><circle cx="182.7" cy="132.2" r="1.9"/><circle cx="205.0" cy="121.0" r="1.9"/><circle cx="204.3" cy="165.7" r="1.9"/><circle cx="185.0" cy="163.1" r="1.9"/><circle cx="210.9" cy="210.0" r="1.9"/><circle cx="219.0" cy="187.3" r="1.9"/><circle cx="203.9" cy="124.9" r="1.9"/><circle cx="219.8" cy="135.8" r="1.9"/><circle cx="180.1" cy="183.4" r="1.9"/><circle cx="207.5" cy="196.5" r="1.9"/><circle cx="173.2" cy="164.9" r="1.9"/><circle cx="191.3" cy="169.4" r="1.9"/><circle cx="187.6" cy="191.5" r="1.9"/><circle cx="184.3" cy="142.6" r="1.9"/><circle cx="202.7" cy="179.6" r="1.9"/><circle cx="187.6" cy="172.0" r="1.9"/><circle cx="197.7" cy="206.4" r="1.9"/><circle cx="202.1" cy="177.1" r="1.9"/><circle cx="182.2" cy="183.1" r="1.9"/><circle cx="216.7" cy="147.1" r="1.9"/><circle cx="200.1" cy="160.7" r="1.9"/><circle cx="187.9" cy="143.6" r="1.9"/><circle cx="209.5" cy="182.5" r="1.9"/><circle cx="186.0" cy="187.2" r="1.9"/><circle cx="174.4" cy="175.8" r="1.9"/><circle cx="171.4" cy="136.3" r="1.9"/><circle cx="200.2" cy="140.7" r="1.9"/><circle cx="182.0" cy="182.3" r="1.9"/><circle cx="171.7" cy="156.3" r="1.9"/><circle cx="195.4" cy="187.3" r="1.9"/><circle cx="214.9" cy="190.6" r="1.9"/><circle cx="191.4" cy="182.5" r="1.9"/><circle cx="207.5" cy="179.4" r="1.9"/><circle cx="176.2" cy="177.6" r="1.9"/><circle cx="182.1" cy="126.0" r="1.9"/><circle cx="180.6" cy="133.0" r="1.9"/><circle cx="201.6" cy="127.0" r="1.9"/><circle cx="200.9" cy="221.3" r="1.9"/><circle cx="197.2" cy="193.0" r="1.9"/><circle cx="188.7" cy="173.7" r="1.9"/><circle cx="178.1" cy="162.5" r="1.9"/><circle cx="205.4" cy="123.5" r="1.9"/><circle cx="196.0" cy="202.3" r="1.9"/><circle cx="198.1" cy="225.8" r="1.9"/><circle cx="193.4" cy="127.2" r="1.9"/><circle cx="190.2" cy="156.9" r="1.9"/><circle cx="207.8" cy="169.7" r="1.9"/><circle cx="225.2" cy="161.9" r="1.9"/><circle cx="211.4" cy="174.3" r="1.9"/><circle cx="216.7" cy="163.3" r="1.9"/><circle cx="201.6" cy="140.9" r="1.9"/><circle cx="172.0" cy="122.6" r="1.9"/><circle cx="221.1" cy="195.6" r="1.9"/><circle cx="185.7" cy="120.8" r="1.9"/><circle cx="208.0" cy="230.2" r="1.9"/><circle cx="189.9" cy="110.7" r="1.9"/><circle cx="192.7" cy="141.9" r="1.9"/><circle cx="177.4" cy="145.4" r="1.9"/><circle cx="192.5" cy="114.6" r="1.9"/><circle cx="211.2" cy="154.1" r="1.9"/><circle cx="171.1" cy="148.9" r="1.9"/><circle cx="213.7" cy="203.5" r="1.9"/><circle cx="205.8" cy="178.1" r="1.9"/><circle cx="189.5" cy="208.3" r="1.9"/><circle cx="199.7" cy="141.8" r="1.9"/><circle cx="207.2" cy="164.7" r="1.9"/><circle cx="201.9" cy="187.4" r="1.9"/><circle cx="196.1" cy="152.4" r="1.9"/><circle cx="214.9" cy="174.5" r="1.9"/><circle cx="208.6" cy="230.3" r="1.9"/><circle cx="210.5" cy="164.2" r="1.9"/><circle cx="208.6" cy="123.6" r="1.9"/><circle cx="208.2" cy="212.7" r="1.9"/><circle cx="186.1" cy="171.2" r="1.9"/><circle cx="182.3" cy="199.4" r="1.9"/><circle cx="188.2" cy="174.7" r="1.9"/><circle cx="213.6" cy="143.1" r="1.9"/><circle cx="180.1" cy="162.3" r="1.9"/><circle cx="173.9" cy="125.5" r="1.9"/><circle cx="197.6" cy="116.5" r="1.9"/><circle cx="185.1" cy="191.6" r="1.9"/><circle cx="201.1" cy="216.8" r="1.9"/><circle cx="199.7" cy="148.3" r="1.9"/><circle cx="191.6" cy="203.9" r="1.9"/><circle cx="182.0" cy="162.1" r="1.9"/><circle cx="197.8" cy="153.2" r="1.9"/><circle cx="202.6" cy="138.8" r="1.9"/><circle cx="197.9" cy="224.3" r="1.9"/><circle cx="205.6" cy="207.5" r="1.9"/><circle cx="216.8" cy="126.6" r="1.9"/><circle cx="220.6" cy="159.1" r="1.9"/><circle cx="211.9" cy="139.3" r="1.9"/><circle cx="214.7" cy="146.4" r="1.9"/><circle cx="208.6" cy="176.8" r="1.9"/><circle cx="196.7" cy="163.4" r="1.9"/><circle cx="194.2" cy="157.8" r="1.9"/><circle cx="184.9" cy="122.6" r="1.9"/><circle cx="212.2" cy="194.6" r="1.9"/><circle cx="192.8" cy="184.0" r="1.9"/><circle cx="186.5" cy="185.3" r="1.9"/><circle cx="182.2" cy="167.2" r="1.9"/><circle cx="183.5" cy="116.4" r="1.9"/><circle cx="220.5" cy="179.7" r="1.9"/><circle cx="214.7" cy="135.2" r="1.9"/><circle cx="175.1" cy="132.9" r="1.9"/><circle cx="194.7" cy="206.1" r="1.9"/><circle cx="201.1" cy="194.8" r="1.9"/><circle cx="209.0" cy="216.9" r="1.9"/><circle cx="177.7" cy="177.3" r="1.9"/><circle cx="201.7" cy="227.4" r="1.9"/><circle cx="200.4" cy="220.7" r="1.9"/><circle cx="212.5" cy="148.5" r="1.9"/><circle cx="208.2" cy="207.3" r="1.9"/><circle cx="180.2" cy="185.1" r="1.9"/><circle cx="200.5" cy="198.4" r="1.9"/><circle cx="194.7" cy="177.9" r="1.9"/><circle cx="198.2" cy="167.2" r="1.9"/><circle cx="206.7" cy="151.4" r="1.9"/><circle cx="178.1" cy="149.7" r="1.9"/><circle cx="190.6" cy="191.2" r="1.9"/><circle cx="185.1" cy="149.1" r="1.9"/><circle cx="218.3" cy="165.7" r="1.9"/><circle cx="192.2" cy="103.6" r="1.9"/><circle cx="206.3" cy="238.6" r="1.9"/><circle cx="194.5" cy="211.4" r="1.9"/><circle cx="206.0" cy="166.2" r="1.9"/><circle cx="189.2" cy="227.6" r="1.9"/><circle cx="217.3" cy="175.4" r="1.9"/><circle cx="217.9" cy="148.9" r="1.9"/><circle cx="194.7" cy="215.7" r="1.9"/><circle cx="189.1" cy="140.3" r="1.9"/><circle cx="205.5" cy="232.7" r="1.9"/><circle cx="182.7" cy="187.4" r="1.9"/><circle cx="196.0" cy="158.9" r="1.9"/><circle cx="186.0" cy="193.2" r="1.9"/><circle cx="223.8" cy="183.0" r="1.9"/><circle cx="187.0" cy="176.8" r="1.9"/><circle cx="197.9" cy="186.4" r="1.9"/><circle cx="183.9" cy="116.8" r="1.9"/><circle cx="207.1" cy="186.8" r="1.9"/><circle cx="180.0" cy="161.6" r="1.9"/><circle cx="207.1" cy="231.9" r="1.9"/><circle cx="189.9" cy="220.3" r="1.9"/><circle cx="186.6" cy="136.4" r="1.9"/><circle cx="181.7" cy="147.5" r="1.9"/><circle cx="215.9" cy="222.2" r="1.9"/><circle cx="214.4" cy="192.9" r="1.9"/><circle cx="203.5" cy="156.4" r="1.9"/><circle cx="198.1" cy="127.2" r="1.9"/><circle cx="191.7" cy="119.2" r="1.9"/><circle cx="181.3" cy="153.0" r="1.9"/><circle cx="209.4" cy="144.4" r="1.9"/><circle cx="204.0" cy="185.1" r="1.9"/><circle cx="208.4" cy="205.4" r="1.9"/><circle cx="182.4" cy="158.3" r="1.9"/><circle cx="213.7" cy="156.9" r="1.9"/><circle cx="203.6" cy="208.0" r="1.9"/><circle cx="222.4" cy="173.5" r="1.9"/><circle cx="214.4" cy="168.6" r="1.9"/><circle cx="174.8" cy="174.6" r="1.9"/><circle cx="203.1" cy="164.6" r="1.9"/><circle cx="212.4" cy="175.7" r="1.9"/><circle cx="211.4" cy="178.7" r="1.9"/><circle cx="192.4" cy="198.9" r="1.9"/><circle cx="197.1" cy="176.4" r="1.9"/><circle cx="197.0" cy="166.4" r="1.9"/><circle cx="210.8" cy="151.8" r="1.9"/><circle cx="177.9" cy="164.9" r="1.9"/><circle cx="216.1" cy="180.8" r="1.9"/><circle cx="194.8" cy="171.7" r="1.9"/><circle cx="199.9" cy="191.0" r="1.9"/><circle cx="187.0" cy="145.7" r="1.9"/><circle cx="215.9" cy="154.3" r="1.9"/><circle cx="219.2" cy="160.6" r="1.9"/><circle cx="189.3" cy="117.7" r="1.9"/><circle cx="195.8" cy="129.1" r="1.9"/><circle cx="199.7" cy="165.1" r="1.9"/><circle cx="212.9" cy="208.4" r="1.9"/><circle cx="196.6" cy="181.2" r="1.9"/><circle cx="172.3" cy="122.0" r="1.9"/><circle cx="207.2" cy="229.7" r="1.9"/><circle cx="209.2" cy="155.5" r="1.9"/><circle cx="181.6" cy="159.2" r="1.9"/><circle cx="208.5" cy="155.2" r="1.9"/><circle cx="174.1" cy="159.4" r="1.9"/><circle cx="213.6" cy="152.8" r="1.9"/><circle cx="180.7" cy="185.1" r="1.9"/><circle cx="194.9" cy="204.7" r="1.9"/><circle cx="177.6" cy="175.0" r="1.9"/><circle cx="178.5" cy="143.0" r="1.9"/><circle cx="194.0" cy="184.3" r="1.9"/><circle cx="193.3" cy="132.4" r="1.9"/><circle cx="214.6" cy="186.4" r="1.9"/><circle cx="193.0" cy="155.5" r="1.9"/><circle cx="202.1" cy="204.9" r="1.9"/><circle cx="182.6" cy="173.5" r="1.9"/><circle cx="185.7" cy="169.3" r="1.9"/><circle cx="210.5" cy="200.5" r="1.9"/><circle cx="181.6" cy="189.5" r="1.9"/><circle cx="205.7" cy="234.1" r="1.9"/><circle cx="193.4" cy="189.1" r="1.9"/><circle cx="207.7" cy="160.5" r="1.9"/><circle cx="202.0" cy="156.7" r="1.9"/><circle cx="214.3" cy="212.9" r="1.9"/><circle cx="192.4" cy="181.4" r="1.9"/><circle cx="218.7" cy="133.6" r="1.9"/><circle cx="196.9" cy="132.2" r="1.9"/><circle cx="195.5" cy="194.0" r="1.9"/><circle cx="176.7" cy="141.7" r="1.9"/><circle cx="183.3" cy="126.4" r="1.9"/><circle cx="210.3" cy="197.8" r="1.9"/><circle cx="198.9" cy="121.1" r="1.9"/><circle cx="182.8" cy="179.1" r="1.9"/><circle cx="205.3" cy="224.9" r="1.9"/><circle cx="190.6" cy="196.1" r="1.9"/><circle cx="199.7" cy="173.3" r="1.9"/><circle cx="193.2" cy="110.7" r="1.9"/><circle cx="182.4" cy="146.4" r="1.9"/><circle cx="195.3" cy="196.3" r="1.9"/><circle cx="191.0" cy="109.4" r="1.9"/><circle cx="173.4" cy="173.0" r="1.9"/><circle cx="203.5" cy="142.8" r="1.9"/><circle cx="203.8" cy="188.9" r="1.9"/><circle cx="187.7" cy="141.9" r="1.9"/><circle cx="193.8" cy="187.6" r="1.9"/><circle cx="198.5" cy="177.1" r="1.9"/><circle cx="199.8" cy="123.9" r="1.9"/><circle cx="180.1" cy="196.2" r="1.9"/><circle cx="205.1" cy="209.9" r="1.9"/><circle cx="216.1" cy="169.2" r="1.9"/><circle cx="201.5" cy="158.1" r="1.9"/><circle cx="188.7" cy="105.3" r="1.9"/><circle cx="225.5" cy="162.9" r="1.9"/><circle cx="193.8" cy="195.5" r="1.9"/><circle cx="185.3" cy="182.9" r="1.9"/><circle cx="209.5" cy="204.7" r="1.9"/><circle cx="211.2" cy="146.5" r="1.9"/><circle cx="184.2" cy="145.2" r="1.9"/><circle cx="199.7" cy="178.1" r="1.9"/><circle cx="196.1" cy="145.3" r="1.9"/><circle cx="221.0" cy="157.5" r="1.9"/><circle cx="189.5" cy="114.5" r="1.9"/><circle cx="174.9" cy="156.3" r="1.9"/><circle cx="213.7" cy="127.4" r="1.9"/><circle cx="171.9" cy="159.6" r="1.9"/><circle cx="192.7" cy="99.4" r="1.9"/><circle cx="216.6" cy="188.7" r="1.9"/><circle cx="194.9" cy="144.6" r="1.9"/><circle cx="182.5" cy="139.2" r="1.9"/><circle cx="216.5" cy="158.4" r="1.9"/><circle cx="170.8" cy="143.1" r="1.9"/><circle cx="175.8" cy="136.1" r="1.9"/><circle cx="182.9" cy="184.3" r="1.9"/><circle cx="201.7" cy="216.4" r="1.9"/><circle cx="187.4" cy="165.3" r="1.9"/><circle cx="198.7" cy="233.3" r="1.9"/><circle cx="191.1" cy="124.2" r="1.9"/><circle cx="184.8" cy="125.0" r="1.9"/><circle cx="212.8" cy="186.7" r="1.9"/><circle cx="211.7" cy="151.0" r="1.9"/><circle cx="206.4" cy="223.3" r="1.9"/><circle cx="224.2" cy="167.1" r="1.9"/><circle cx="169.0" cy="131.9" r="1.9"/><circle cx="190.6" cy="143.8" r="1.9"/><circle cx="190.8" cy="212.2" r="1.9"/><circle cx="200.5" cy="189.9" r="1.9"/><circle cx="193.3" cy="176.0" r="1.9"/><circle cx="203.0" cy="225.9" r="1.9"/><circle cx="211.7" cy="213.5" r="1.9"/><circle cx="192.0" cy="206.3" r="1.9"/><circle cx="207.2" cy="175.1" r="1.9"/><circle cx="195.9" cy="213.3" r="1.9"/><circle cx="210.0" cy="169.4" r="1.9"/><circle cx="177.6" cy="138.8" r="1.9"/><circle cx="185.6" cy="202.3" r="1.9"/><circle cx="186.6" cy="170.9" r="1.9"/><circle cx="218.3" cy="166.3" r="1.9"/><circle cx="194.1" cy="223.5" r="1.9"/><circle cx="176.3" cy="126.9" r="1.9"/><circle cx="205.2" cy="192.4" r="1.9"/><circle cx="201.8" cy="214.4" r="1.9"/><circle cx="200.9" cy="145.3" r="1.9"/><circle cx="222.3" cy="172.5" r="1.9"/><circle cx="186.3" cy="173.8" r="1.9"/><circle cx="177.0" cy="179.2" r="1.9"/><circle cx="180.7" cy="142.2" r="1.9"/><circle cx="206.3" cy="163.7" r="1.9"/><circle cx="220.5" cy="144.0" r="1.9"/><circle cx="185.3" cy="129.1" r="1.9"/><circle cx="219.2" cy="169.0" r="1.9"/><circle cx="204.2" cy="160.2" r="1.9"/><circle cx="178.7" cy="184.9" r="1.9"/><circle cx="198.4" cy="150.5" r="1.9"/><circle cx="194.6" cy="225.5" r="1.9"/><circle cx="212.5" cy="136.8" r="1.9"/><circle cx="190.2" cy="208.9" r="1.9"/><circle cx="183.1" cy="119.1" r="1.9"/><circle cx="220.5" cy="181.5" r="1.9"/><circle cx="191.6" cy="171.2" r="1.9"/><circle cx="215.9" cy="170.0" r="1.9"/><circle cx="195.3" cy="145.0" r="1.9"/><circle cx="210.2" cy="135.7" r="1.9"/><circle cx="186.5" cy="160.3" r="1.9"/><circle cx="206.7" cy="225.3" r="1.9"/><circle cx="189.2" cy="212.4" r="1.9"/><circle cx="211.2" cy="206.3" r="1.9"/><circle cx="194.4" cy="135.8" r="1.9"/><circle cx="189.0" cy="191.7" r="1.9"/><circle cx="220.6" cy="170.6" r="1.9"/><circle cx="216.1" cy="204.0" r="1.9"/><circle cx="211.1" cy="133.9" r="1.9"/><circle cx="220.7" cy="176.3" r="1.9"/><circle cx="206.8" cy="182.7" r="1.9"/><circle cx="180.5" cy="159.1" r="1.9"/><circle cx="214.7" cy="210.1" r="1.9"/><circle cx="191.8" cy="225.0" r="1.9"/><circle cx="211.8" cy="209.6" r="1.9"/><circle cx="178.8" cy="144.8" r="1.9"/><circle cx="181.5" cy="179.4" r="1.9"/><circle cx="213.2" cy="166.9" r="1.9"/><circle cx="191.5" cy="142.2" r="1.9"/><circle cx="200.0" cy="150.1" r="1.9"/><circle cx="202.5" cy="181.0" r="1.9"/><circle cx="185.9" cy="189.1" r="1.9"/><circle cx="189.7" cy="224.1" r="1.9"/><circle cx="199.3" cy="190.0" r="1.9"/><circle cx="173.7" cy="143.3" r="1.9"/><circle cx="182.3" cy="150.5" r="1.9"/><circle cx="178.8" cy="170.4" r="1.9"/><circle cx="209.8" cy="222.5" r="1.9"/><circle cx="208.8" cy="209.6" r="1.9"/><circle cx="207.8" cy="145.0" r="1.9"/><circle cx="173.7" cy="183.9" r="1.9"/><circle cx="218.4" cy="145.5" r="1.9"/><circle cx="190.5" cy="201.1" r="1.9"/><circle cx="206.1" cy="139.0" r="1.9"/><circle cx="180.1" cy="166.6" r="1.9"/><circle cx="218.8" cy="166.9" r="1.9"/><circle cx="201.2" cy="141.4" r="1.9"/><circle cx="213.9" cy="149.8" r="1.9"/><circle cx="208.3" cy="129.3" r="1.9"/><circle cx="190.4" cy="120.7" r="1.9"/><circle cx="211.5" cy="144.7" r="1.9"/><circle cx="176.0" cy="170.6" r="1.9"/><circle cx="181.8" cy="119.4" r="1.9"/><circle cx="201.4" cy="133.6" r="1.9"/><circle cx="180.7" cy="177.2" r="1.9"/><circle cx="197.9" cy="125.8" r="1.9"/><circle cx="196.1" cy="146.9" r="1.9"/><circle cx="192.5" cy="194.2" r="1.9"/><circle cx="210.9" cy="217.7" r="1.9"/><circle cx="218.1" cy="184.0" r="1.9"/><circle cx="187.3" cy="211.9" r="1.9"/><circle cx="182.5" cy="143.9" r="1.9"/><circle cx="184.4" cy="194.7" r="1.9"/><circle cx="193.1" cy="222.0" r="1.9"/><circle cx="187.6" cy="203.1" r="1.9"/><circle cx="214.8" cy="176.6" r="1.9"/><circle cx="207.3" cy="240.6" r="1.9"/><circle cx="179.6" cy="123.7" r="1.9"/><circle cx="176.5" cy="149.6" r="1.9"/><circle cx="199.8" cy="226.4" r="1.9"/><circle cx="172.0" cy="141.1" r="1.9"/><circle cx="198.0" cy="218.7" r="1.9"/><circle cx="196.8" cy="150.0" r="1.9"/><circle cx="184.2" cy="166.6" r="1.9"/><circle cx="205.7" cy="200.5" r="1.9"/><circle cx="198.5" cy="202.6" r="1.9"/><circle cx="194.5" cy="147.7" r="1.9"/><circle cx="209.1" cy="158.6" r="1.9"/><circle cx="188.5" cy="163.6" r="1.9"/><circle cx="207.1" cy="172.9" r="1.9"/><circle cx="192.0" cy="187.3" r="1.9"/><circle cx="178.9" cy="151.3" r="1.9"/><circle cx="185.9" cy="219.0" r="1.9"/><circle cx="194.2" cy="174.4" r="1.9"/><circle cx="219.0" cy="177.4" r="1.9"/><circle cx="193.6" cy="135.4" r="1.9"/><circle cx="207.9" cy="124.7" r="1.9"/><circle cx="207.2" cy="157.7" r="1.9"/><circle cx="203.9" cy="134.6" r="1.9"/><circle cx="202.1" cy="162.7" r="1.9"/><circle cx="208.3" cy="162.2" r="1.9"/><circle cx="183.5" cy="165.7" r="1.9"/><circle cx="198.2" cy="170.0" r="1.9"/><circle cx="176.2" cy="153.2" r="1.9"/><circle cx="176.6" cy="137.9" r="1.9"/><circle cx="190.3" cy="167.4" r="1.9"/><circle cx="221.4" cy="209.5" r="1.9"/><circle cx="219.2" cy="174.9" r="1.9"/><circle cx="184.4" cy="182.6" r="1.9"/><circle cx="197.5" cy="139.7" r="1.9"/><circle cx="189.3" cy="160.2" r="1.9"/><circle cx="173.1" cy="168.4" r="1.9"/><circle cx="188.0" cy="127.3" r="1.9"/><circle cx="220.5" cy="189.4" r="1.9"/><circle cx="211.3" cy="171.5" r="1.9"/><circle cx="213.0" cy="209.5" r="1.9"/><circle cx="192.6" cy="198.1" r="1.9"/><circle cx="186.8" cy="158.5" r="1.9"/><circle cx="202.5" cy="152.3" r="1.9"/><circle cx="209.1" cy="186.3" r="1.9"/><circle cx="204.9" cy="220.8" r="1.9"/><circle cx="208.8" cy="132.2" r="1.9"/><circle cx="212.1" cy="205.3" r="1.9"/><circle cx="196.1" cy="160.8" r="1.9"/><circle cx="208.4" cy="215.1" r="1.9"/><circle cx="193.4" cy="147.7" r="1.9"/><circle cx="202.3" cy="120.2" r="1.9"/><circle cx="181.5" cy="127.0" r="1.9"/><circle cx="207.1" cy="216.5" r="1.9"/><circle cx="181.2" cy="140.0" r="1.9"/><circle cx="206.4" cy="214.9" r="1.9"/><circle cx="180.6" cy="129.2" r="1.9"/><circle cx="180.8" cy="175.4" r="1.9"/><circle cx="175.1" cy="164.8" r="1.9"/><circle cx="219.9" cy="164.3" r="1.9"/><circle cx="213.4" cy="158.8" r="1.9"/><circle cx="204.0" cy="224.3" r="1.9"/><circle cx="210.2" cy="171.2" r="1.9"/><circle cx="196.5" cy="198.6" r="1.9"/><circle cx="206.8" cy="210.1" r="1.9"/><circle cx="188.2" cy="166.8" r="1.9"/><circle cx="192.4" cy="16.0" r="1.9"/><circle cx="162.3" cy="29.3" r="1.9"/><circle cx="176.2" cy="45.0" r="1.9"/><circle cx="183.7" cy="43.1" r="1.9"/><circle cx="188.2" cy="49.6" r="1.9"/><circle cx="203.5" cy="48.2" r="1.9"/><circle cx="209.5" cy="46.7" r="1.9"/><circle cx="180.0" cy="62.9" r="1.9"/><circle cx="180.2" cy="64.0" r="1.9"/><circle cx="190.7" cy="65.3" r="1.9"/><circle cx="173.3" cy="70.0" r="1.9"/><circle cx="175.4" cy="69.0" r="1.9"/><circle cx="191.4" cy="71.9" r="1.9"/><circle cx="199.7" cy="69.0" r="1.9"/><circle cx="213.0" cy="69.2" r="1.9"/><circle cx="215.9" cy="69.2" r="1.9"/><circle cx="220.7" cy="66.0" r="1.9"/><circle cx="179.8" cy="75.8" r="1.9"/><circle cx="189.2" cy="76.8" r="1.9"/><circle cx="195.1" cy="76.8" r="1.9"/><circle cx="191.4" cy="80.6" r="1.9"/><circle cx="198.7" cy="82.6" r="1.9"/><circle cx="200.9" cy="81.2" r="1.9"/><circle cx="176.9" cy="83.1" r="1.9"/><circle cx="174.0" cy="86.0" r="1.9"/><circle cx="184.9" cy="84.5" r="1.9"/><circle cx="159.4" cy="89.5" r="1.9"/><circle cx="171.1" cy="89.5" r="1.9"/><circle cx="201.6" cy="89.3" r="1.9"/><circle cx="177.1" cy="92.3" r="1.9"/><circle cx="181.9" cy="90.8" r="1.9"/><circle cx="174.2" cy="95.6" r="1.9"/><circle cx="181.0" cy="95.6" r="1.9"/><circle cx="187.8" cy="94.2" r="1.9"/><circle cx="174.2" cy="100.0" r="1.9"/><circle cx="165.5" cy="100.0" r="1.9"/><circle cx="183.4" cy="103.4" r="1.9"/><circle cx="168.4" cy="103.9" r="1.9"/><circle cx="152.9" cy="106.4" r="1.9"/><circle cx="174.2" cy="107.3" r="1.9"/><circle cx="187.8" cy="104.4" r="1.9"/><circle cx="176.1" cy="111.1" r="1.9"/><circle cx="157.1" cy="114.7" r="1.9"/><circle cx="182.9" cy="113.1" r="1.9"/><circle cx="165.5" cy="117.9" r="1.9"/><circle cx="170.8" cy="117.0" r="1.9"/><circle cx="178.1" cy="117.9" r="1.9"/><circle cx="160.6" cy="122.6" r="1.9"/><circle cx="168.4" cy="121.8" r="1.9"/><circle cx="174.2" cy="122.8" r="1.9"/><circle cx="181.9" cy="121.8" r="1.9"/><circle cx="186.8" cy="118.9" r="1.9"/><circle cx="135.8" cy="114.1" r="1.9"/><circle cx="138.1" cy="143.6" r="1.9"/><circle cx="144.8" cy="137.6" r="1.9"/><circle cx="155.0" cy="130.3" r="1.9"/><circle cx="154.1" cy="135.0" r="1.9"/><circle cx="159.0" cy="136.4" r="1.9"/><circle cx="156.4" cy="146.9" r="1.9"/><circle cx="155.0" cy="153.8" r="1.9"/><circle cx="152.7" cy="158.5" r="1.9"/><circle cx="157.6" cy="156.4" r="1.9"/><circle cx="164.4" cy="132.7" r="1.9"/><circle cx="163.8" cy="140.6" r="1.9"/><circle cx="160.1" cy="146.0" r="1.9"/><circle cx="165.6" cy="146.0" r="1.9"/><circle cx="151.9" cy="160.1" r="1.9"/><circle cx="159.5" cy="160.6" r="1.9"/><circle cx="165.0" cy="156.3" r="1.9"/><circle cx="163.2" cy="166.6" r="1.9"/><circle cx="123.0" cy="163.1" r="1.9"/><circle cx="123.3" cy="163.4" r="1.9"/><circle cx="88.7" cy="249.7" r="1.9"/><circle cx="88.9" cy="250.0" r="1.9"/><circle cx="166.3" cy="243.8" r="1.9"/><circle cx="124.5" cy="211.6" r="1.9"/><circle cx="130.9" cy="242.4" r="1.9"/><circle cx="166.0" cy="243.5" r="1.9"/><circle cx="150.9" cy="179.1" r="1.9"/><circle cx="156.2" cy="176.5" r="1.9"/><circle cx="162.5" cy="176.4" r="1.9"/><circle cx="149.8" cy="188.7" r="1.9"/><circle cx="152.2" cy="186.9" r="1.9"/><circle cx="153.5" cy="213.8" r="1.9"/><circle cx="157.9" cy="216.2" r="1.9"/><circle cx="164.9" cy="214.4" r="1.9"/><circle cx="156.2" cy="155.8" r="1.9"/><circle cx="158.5" cy="157.3" r="1.9"/><circle cx="167.3" cy="197.9" r="1.9"/><circle cx="168.9" cy="188.0" r="1.9"/><circle cx="168.2" cy="173.6" r="1.9"/><circle cx="174.2" cy="199.1" r="1.9"/><circle cx="173.7" cy="203.4" r="1.9"/><circle cx="170.6" cy="214.3" r="1.9"/><circle cx="177.0" cy="220.1" r="1.9"/><circle cx="182.7" cy="208.7" r="1.9"/><circle cx="222.9" cy="211.3" r="1.9"/><circle cx="219.0" cy="214.8" r="1.9"/><circle cx="220.2" cy="205.1" r="1.9"/><circle cx="246.6" cy="171.9" r="1.9"/><circle cx="177.8" cy="236.8" r="1.9"/><circle cx="177.6" cy="240.2" r="1.9"/><circle cx="183.9" cy="235.4" r="1.9"/><circle cx="181.2" cy="242.9" r="1.9"/><circle cx="190.0" cy="241.4" r="1.9"/><circle cx="196.0" cy="245.3" r="1.9"/><circle cx="200.2" cy="242.8" r="1.9"/><circle cx="207.8" cy="243.1" r="1.9"/><circle cx="185.1" cy="250.6" r="1.9"/><circle cx="205.5" cy="237.5" r="1.9"/><circle cx="210.2" cy="233.2" r="1.9"/><circle cx="197.9" cy="82.2" r="1.9"/><circle cx="200.8" cy="81.5" r="1.9"/><circle cx="202.3" cy="90.2" r="1.9"/><circle cx="213.9" cy="91.9" r="1.9"/><circle cx="196.5" cy="94.5" r="1.9"/><circle cx="201.5" cy="95.3" r="1.9"/><circle cx="198.6" cy="98.2" r="1.9"/><circle cx="205.2" cy="100.3" r="1.9"/><circle cx="208.8" cy="100.3" r="1.9"/><circle cx="216.1" cy="102.5" r="1.9"/><circle cx="207.4" cy="104.0" r="1.9"/><circle cx="213.2" cy="106.2" r="1.9"/><circle cx="199.4" cy="106.9" r="1.9"/><circle cx="197.9" cy="111.2" r="1.9"/><circle cx="205.2" cy="111.2" r="1.9"/><circle cx="209.5" cy="112.0" r="1.9"/><circle cx="196.5" cy="115.6" r="1.9"/><circle cx="211.7" cy="117.8" r="1.9"/><circle cx="218.3" cy="123.6" r="1.9"/><circle cx="220.4" cy="130.9" r="1.9"/><circle cx="224.7" cy="137.3" r="1.9"/><circle cx="248.6" cy="146.7" r="1.9"/><circle cx="237.7" cy="164.9" r="1.9"/><circle cx="240.6" cy="163.7" r="1.9"/><circle cx="226.8" cy="169.2" r="1.9"/><circle cx="227.5" cy="175.0" r="1.9"/><circle cx="220.0" cy="203.9" r="1.9"/><circle cx="224.8" cy="194.9" r="1.9"/><circle cx="229.6" cy="187.2" r="1.9"/><circle cx="184.5" cy="238.9" r="1.9"/><circle cx="191.2" cy="241.9" r="1.9"/><circle cx="200.2" cy="232.9" r="1.9"/><circle cx="209.9" cy="232.9" r="1.9"/><circle cx="212.3" cy="226.2" r="1.9"/><circle cx="205.1" cy="239.5" r="1.9"/><circle cx="180.6" cy="243.4" r="1.9"/><circle cx="184.2" cy="233.9" r="1.9"/><circle cx="187.6" cy="235.3" r="1.9"/><circle cx="191.0" cy="234.4" r="1.9"/><circle cx="194.4" cy="233.4" r="1.9"/><circle cx="188.6" cy="238.7" r="1.9"/><circle cx="192.4" cy="239.2" r="1.9"/><circle cx="195.8" cy="241.1" r="1.9"/><circle cx="198.2" cy="242.6" r="1.9"/><circle cx="195.3" cy="245.5" r="1.9"/><circle cx="200.2" cy="243.1" r="1.9"/><circle cx="177.9" cy="237.3" r="1.9"/><circle cx="180.3" cy="243.1" r="1.9"/><circle cx="207.0" cy="243.1" r="1.9"/><circle cx="208.4" cy="244.0" r="1.9"/><circle cx="204.0" cy="239.2" r="1.9"/><circle cx="211.8" cy="232.4" r="1.9"/><circle cx="205.0" cy="232.4" r="1.9"/><circle cx="206.0" cy="229.5" r="1.9"/><circle cx="208.0" cy="236.0" r="1.9"/><circle cx="204.5" cy="235.0" r="1.9"/><circle cx="209.0" cy="240.0" r="1.9"/><circle cx="176.9" cy="220.3" r="1.9"/><circle cx="170.0" cy="185.0" r="1.9"/><circle cx="175.0" cy="192.0" r="1.9"/><circle cx="178.0" cy="198.0" r="1.9"/><circle cx="180.0" cy="205.0" r="1.9"/><circle cx="181.5" cy="211.0" r="1.9"/><circle cx="181.0" cy="225.0" r="1.9"/></g><g fill="rgb(50,188,172)" fill-opacity="0.6" stroke="rgb(50,188,172)" stroke-opacity="0.6" stroke-width="1.3"><circle cx="364.2" cy="143.1" r="2.9"/><circle cx="348.7" cy="170.4" r="2.9"/><circle cx="342.0" cy="174.9" r="2.9"/><circle cx="352.5" cy="189.7" r="2.9"/><circle cx="350.8" cy="191.4" r="2.9"/><circle cx="345.1" cy="195.3" r="2.9"/><circle cx="350.8" cy="204.6" r="2.9"/><circle cx="358.6" cy="204.4" r="2.9"/><circle cx="362.7" cy="204.4" r="2.9"/><circle cx="366.6" cy="204.4" r="2.9"/><circle cx="349.7" cy="209.2" r="2.9"/><circle cx="348.8" cy="212.9" r="2.9"/><circle cx="353.9" cy="213.4" r="2.9"/><circle cx="361.5" cy="213.9" r="2.9"/><circle cx="365.8" cy="214.6" r="2.9"/><circle cx="359.8" cy="216.8" r="2.9"/><circle cx="363.7" cy="215.9" r="2.9"/><circle cx="359.3" cy="219.3" r="2.9"/><circle cx="349.2" cy="220.9" r="2.9"/><circle cx="359.8" cy="226.8" r="2.9"/><circle cx="349.0" cy="232.4" r="2.9"/><circle cx="365.1" cy="234.5" r="2.9"/><circle cx="360.2" cy="236.9" r="2.9"/><circle cx="376.7" cy="239.5" r="2.9"/><circle cx="363.4" cy="241.3" r="2.9"/><circle cx="369.5" cy="242.8" r="2.9"/><circle cx="371.5" cy="243.4" r="2.9"/><circle cx="378.4" cy="246.5" r="2.9"/><circle cx="362.6" cy="246.2" r="2.9"/><circle cx="366.9" cy="247.7" r="2.9"/><circle cx="362.9" cy="250.3" r="2.9"/><circle cx="370.5" cy="249.5" r="2.9"/><circle cx="365.0" cy="251.0" r="2.9"/><circle cx="373.9" cy="252.0" r="2.9"/><circle cx="362.2" cy="253.0" r="2.9"/><circle cx="374.8" cy="255.5" r="2.9"/><circle cx="355.7" cy="256.3" r="2.9"/><circle cx="357.1" cy="258.6" r="2.9"/><circle cx="361.2" cy="259.8" r="2.9"/><circle cx="364.4" cy="260.5" r="2.9"/><circle cx="359.7" cy="262.2" r="2.9"/><circle cx="371.0" cy="263.7" r="2.9"/><circle cx="364.0" cy="256.1" r="2.9"/><circle cx="367.2" cy="262.1" r="2.9"/><circle cx="356.3" cy="266.4" r="2.9"/><circle cx="357.4" cy="269.2" r="2.9"/><circle cx="367.3" cy="268.1" r="2.9"/><circle cx="371.5" cy="265.4" r="2.9"/><circle cx="373.2" cy="269.4" r="2.9"/><circle cx="361.3" cy="274.4" r="2.9"/><circle cx="363.2" cy="276.2" r="2.9"/><circle cx="370.0" cy="275.2" r="2.9"/><circle cx="360.2" cy="280.8" r="2.9"/><circle cx="359.0" cy="286.0" r="2.9"/><circle cx="363.2" cy="286.1" r="2.9"/><circle cx="369.1" cy="286.0" r="2.9"/><circle cx="366.3" cy="294.1" r="2.9"/><circle cx="364.0" cy="244.0" r="2.9"/><circle cx="366.0" cy="250.0" r="2.9"/><circle cx="362.0" cy="257.0" r="2.9"/><circle cx="367.0" cy="256.0" r="2.9"/><circle cx="360.0" cy="252.0" r="2.9"/></g><g fill="rgb(5,5,135)" fill-opacity="0.6" stroke="rgb(5,5,135)" stroke-opacity="0.6" stroke-width="1.3"><circle cx="482.2" cy="303.3" r="3.45"/><circle cx="479.6" cy="307.0" r="3.45"/><circle cx="479.9" cy="309.6" r="3.45"/><circle cx="481.5" cy="311.0" r="3.45"/><circle cx="480.1" cy="314.0" r="3.45"/><circle cx="479.2" cy="308.4" r="3.45"/><circle cx="480.5" cy="306.0" r="3.45"/></g><g stroke="#ababab" stroke-width="0.95" stroke-dasharray="1.03 1.69" fill="none"><line x1="89.67" y1="359.5" x2="89.67" y2="5.5"/><line x1="100.28" y1="359.5" x2="100.28" y2="5.5"/><line x1="108.95" y1="359.5" x2="108.95" y2="5.5"/><line x1="116.27" y1="359.5" x2="116.27" y2="5.5"/><line x1="122.62" y1="359.5" x2="122.62" y2="5.5"/><line x1="128.22" y1="359.5" x2="128.22" y2="5.5"/><line x1="133.23" y1="359.5" x2="133.23" y2="5.5"/><line x1="166.17" y1="359.5" x2="166.17" y2="5.5"/><line x1="185.44" y1="359.5" x2="185.44" y2="5.5"/><line x1="199.12" y1="359.5" x2="199.12" y2="5.5"/><line x1="209.72" y1="359.5" x2="209.72" y2="5.5"/><line x1="218.39" y1="359.5" x2="218.39" y2="5.5"/><line x1="225.72" y1="359.5" x2="225.72" y2="5.5"/><line x1="232.06" y1="359.5" x2="232.06" y2="5.5"/><line x1="237.66" y1="359.5" x2="237.66" y2="5.5"/><line x1="242.67" y1="359.5" x2="242.67" y2="5.5"/><line x1="275.61" y1="359.5" x2="275.61" y2="5.5"/><line x1="294.89" y1="359.5" x2="294.89" y2="5.5"/><line x1="308.56" y1="359.5" x2="308.56" y2="5.5"/><line x1="319.17" y1="359.5" x2="319.17" y2="5.5"/><line x1="327.83" y1="359.5" x2="327.83" y2="5.5"/><line x1="335.16" y1="359.5" x2="335.16" y2="5.5"/><line x1="341.51" y1="359.5" x2="341.51" y2="5.5"/><line x1="347.10" y1="359.5" x2="347.10" y2="5.5"/><line x1="352.11" y1="359.5" x2="352.11" y2="5.5"/><line x1="385.06" y1="359.5" x2="385.06" y2="5.5"/><line x1="404.33" y1="359.5" x2="404.33" y2="5.5"/><line x1="418.00" y1="359.5" x2="418.00" y2="5.5"/><line x1="428.61" y1="359.5" x2="428.61" y2="5.5"/><line x1="437.27" y1="359.5" x2="437.27" y2="5.5"/><line x1="444.60" y1="359.5" x2="444.60" y2="5.5"/><line x1="450.95" y1="359.5" x2="450.95" y2="5.5"/><line x1="456.55" y1="359.5" x2="456.55" y2="5.5"/><line x1="461.55" y1="359.5" x2="461.55" y2="5.5"/><line x1="76.0" y1="339.59" x2="494.5" y2="339.59"/><line x1="76.0" y1="324.15" x2="494.5" y2="324.15"/><line x1="76.0" y1="311.54" x2="494.5" y2="311.54"/><line x1="76.0" y1="300.87" x2="494.5" y2="300.87"/><line x1="76.0" y1="291.63" x2="494.5" y2="291.63"/><line x1="76.0" y1="283.48" x2="494.5" y2="283.48"/><line x1="76.0" y1="276.19" x2="494.5" y2="276.19"/><line x1="76.0" y1="228.23" x2="494.5" y2="228.23"/><line x1="76.0" y1="200.17" x2="494.5" y2="200.17"/><line x1="76.0" y1="180.27" x2="494.5" y2="180.27"/><line x1="76.0" y1="164.83" x2="494.5" y2="164.83"/><line x1="76.0" y1="152.21" x2="494.5" y2="152.21"/><line x1="76.0" y1="141.54" x2="494.5" y2="141.54"/><line x1="76.0" y1="132.30" x2="494.5" y2="132.30"/><line x1="76.0" y1="124.16" x2="494.5" y2="124.16"/><line x1="76.0" y1="116.86" x2="494.5" y2="116.86"/><line x1="76.0" y1="68.90" x2="494.5" y2="68.90"/><line x1="76.0" y1="40.85" x2="494.5" y2="40.85"/><line x1="76.0" y1="20.94" x2="494.5" y2="20.94"/></g><line x1="77.86" y1="34.60" x2="494.50" y2="337.86" stroke="#000" stroke-width="2.1" stroke-linecap="butt"/><rect x="76.0" y="5.5" width="418.50" height="354.0" fill="none" stroke="#000" stroke-width="1.0"/><line x1="76.00" y1="359.5" x2="76.00" y2="362.0" stroke="#000" stroke-width="0.87"/><line x1="89.67" y1="359.5" x2="89.67" y2="362.0" stroke="#000" stroke-width="0.87"/><line x1="100.28" y1="359.5" x2="100.28" y2="362.0" stroke="#000" stroke-width="0.87"/><line x1="108.95" y1="359.5" x2="108.95" y2="362.0" stroke="#000" stroke-width="0.87"/><line x1="116.27" y1="359.5" x2="116.27" y2="362.0" stroke="#000" stroke-width="0.87"/><line x1="122.62" y1="359.5" x2="122.62" y2="362.0" stroke="#000" stroke-width="0.87"/><line x1="128.22" y1="359.5" x2="128.22" y2="362.0" stroke="#000" stroke-width="0.87"/><line x1="133.23" y1="359.5" x2="133.23" y2="363.8" stroke="#000" stroke-width="1.15"/><line x1="166.17" y1="359.5" x2="166.17" y2="362.0" stroke="#000" stroke-width="0.87"/><line x1="185.44" y1="359.5" x2="185.44" y2="362.0" stroke="#000" stroke-width="0.87"/><line x1="199.12" y1="359.5" x2="199.12" y2="362.0" stroke="#000" stroke-width="0.87"/><line x1="209.72" y1="359.5" x2="209.72" y2="362.0" stroke="#000" stroke-width="0.87"/><line x1="218.39" y1="359.5" x2="218.39" y2="362.0" stroke="#000" stroke-width="0.87"/><line x1="225.72" y1="359.5" x2="225.72" y2="362.0" stroke="#000" stroke-width="0.87"/><line x1="232.06" y1="359.5" x2="232.06" y2="362.0" stroke="#000" stroke-width="0.87"/><line x1="237.66" y1="359.5" x2="237.66" y2="362.0" stroke="#000" stroke-width="0.87"/><line x1="242.67" y1="359.5" x2="242.67" y2="363.8" stroke="#000" stroke-width="1.15"/><line x1="275.61" y1="359.5" x2="275.61" y2="362.0" stroke="#000" stroke-width="0.87"/><line x1="294.89" y1="359.5" x2="294.89" y2="362.0" stroke="#000" stroke-width="0.87"/><line x1="308.56" y1="359.5" x2="308.56" y2="362.0" stroke="#000" stroke-width="0.87"/><line x1="319.17" y1="359.5" x2="319.17" y2="362.0" stroke="#000" stroke-width="0.87"/><line x1="327.83" y1="359.5" x2="327.83" y2="362.0" stroke="#000" stroke-width="0.87"/><line x1="335.16" y1="359.5" x2="335.16" y2="362.0" stroke="#000" stroke-width="0.87"/><line x1="341.51" y1="359.5" x2="341.51" y2="362.0" stroke="#000" stroke-width="0.87"/><line x1="347.10" y1="359.5" x2="347.10" y2="362.0" stroke="#000" stroke-width="0.87"/><line x1="352.11" y1="359.5" x2="352.11" y2="363.8" stroke="#000" stroke-width="1.15"/><line x1="385.06" y1="359.5" x2="385.06" y2="362.0" stroke="#000" stroke-width="0.87"/><line x1="404.33" y1="359.5" x2="404.33" y2="362.0" stroke="#000" stroke-width="0.87"/><line x1="418.00" y1="359.5" x2="418.00" y2="362.0" stroke="#000" stroke-width="0.87"/><line x1="428.61" y1="359.5" x2="428.61" y2="362.0" stroke="#000" stroke-width="0.87"/><line x1="437.27" y1="359.5" x2="437.27" y2="362.0" stroke="#000" stroke-width="0.87"/><line x1="444.60" y1="359.5" x2="444.60" y2="362.0" stroke="#000" stroke-width="0.87"/><line x1="450.95" y1="359.5" x2="450.95" y2="362.0" stroke="#000" stroke-width="0.87"/><line x1="456.55" y1="359.5" x2="456.55" y2="362.0" stroke="#000" stroke-width="0.87"/><line x1="461.55" y1="359.5" x2="461.55" y2="363.8" stroke="#000" stroke-width="1.15"/><line x1="494.50" y1="359.5" x2="494.50" y2="362.0" stroke="#000" stroke-width="0.87"/><line x1="76.0" y1="359.50" x2="73.5" y2="359.50" stroke="#000" stroke-width="0.87"/><line x1="76.0" y1="339.59" x2="73.5" y2="339.59" stroke="#000" stroke-width="0.87"/><line x1="76.0" y1="324.15" x2="73.5" y2="324.15" stroke="#000" stroke-width="0.87"/><line x1="76.0" y1="311.54" x2="73.5" y2="311.54" stroke="#000" stroke-width="0.87"/><line x1="76.0" y1="300.87" x2="73.5" y2="300.87" stroke="#000" stroke-width="0.87"/><line x1="76.0" y1="291.63" x2="73.5" y2="291.63" stroke="#000" stroke-width="0.87"/><line x1="76.0" y1="283.48" x2="73.5" y2="283.48" stroke="#000" stroke-width="0.87"/><line x1="76.0" y1="276.19" x2="71.7" y2="276.19" stroke="#000" stroke-width="1.15"/><line x1="76.0" y1="228.23" x2="73.5" y2="228.23" stroke="#000" stroke-width="0.87"/><line x1="76.0" y1="200.17" x2="73.5" y2="200.17" stroke="#000" stroke-width="0.87"/><line x1="76.0" y1="180.27" x2="73.5" y2="180.27" stroke="#000" stroke-width="0.87"/><line x1="76.0" y1="164.83" x2="73.5" y2="164.83" stroke="#000" stroke-width="0.87"/><line x1="76.0" y1="152.21" x2="73.5" y2="152.21" stroke="#000" stroke-width="0.87"/><line x1="76.0" y1="141.54" x2="73.5" y2="141.54" stroke="#000" stroke-width="0.87"/><line x1="76.0" y1="132.30" x2="73.5" y2="132.30" stroke="#000" stroke-width="0.87"/><line x1="76.0" y1="124.16" x2="73.5" y2="124.16" stroke="#000" stroke-width="0.87"/><line x1="76.0" y1="116.86" x2="71.7" y2="116.86" stroke="#000" stroke-width="1.15"/><line x1="76.0" y1="68.90" x2="73.5" y2="68.90" stroke="#000" stroke-width="0.87"/><line x1="76.0" y1="40.85" x2="73.5" y2="40.85" stroke="#000" stroke-width="0.87"/><line x1="76.0" y1="20.94" x2="73.5" y2="20.94" stroke="#000" stroke-width="0.87"/><line x1="76.0" y1="5.50" x2="73.5" y2="5.50" stroke="#000" stroke-width="0.87"/><path transform="translate(115.45,381.40) scale(0.00850,-0.00850)" d="M515 0V1237L197 1010V1180L530 1409H696V0Z"/><text x="124.80" y="381.40" font-size="17.40">0</text><line x1="136.16" y1="371.40" x2="142.86" y2="371.40" stroke="#000" stroke-width="1.2"/><text x="145.06" y="374.50" font-size="12.50">1</text><path transform="translate(229.89,381.40) scale(0.00850,-0.00850)" d="M515 0V1237L197 1010V1180L530 1409H696V0Z"/><text x="239.24" y="381.40" font-size="17.40">0</text><text x="249.57" y="374.50" font-size="12.50">0</text><path transform="translate(339.34,381.40) scale(0.00850,-0.00850)" d="M515 0V1237L197 1010V1180L530 1409H696V0Z"/><text x="348.69" y="381.40" font-size="17.40">0</text><text x="359.01" y="374.50" font-size="12.50">1</text><path transform="translate(448.78,381.40) scale(0.00850,-0.00850)" d="M515 0V1237L197 1010V1180L530 1409H696V0Z"/><text x="458.13" y="381.40" font-size="17.40">0</text><text x="468.45" y="374.50" font-size="12.50">2</text><path transform="translate(30.73,123.19) scale(0.00850,-0.00850)" d="M515 0V1237L197 1010V1180L530 1409H696V0Z"/><text x="40.08" y="123.19" font-size="17.40">0</text><line x1="51.50" y1="113.49" x2="58.40" y2="113.49" stroke="#000" stroke-width="1.2"/><text x="60.50" y="116.59" font-size="12.50">8</text><path transform="translate(30.73,282.52) scale(0.00850,-0.00850)" d="M515 0V1237L197 1010V1180L530 1409H696V0Z"/><text x="40.08" y="282.52" font-size="17.40">0</text><line x1="51.50" y1="272.82" x2="58.40" y2="272.82" stroke="#000" stroke-width="1.2"/><text x="60.50" y="275.92" font-size="12.50">9</text><text x="216.17" y="403.50" font-size="17.40">Mean coverage</text><text x="341.76" y="403.50" font-size="17.40" font-style="italic">N</text><g transform="translate(21.3,302.5) rotate(-90)"><text x="-1.80" y="0.00" font-size="17.40" letter-spacing="0.19">Random error</text><text x="114.22" y="0.00" font-size="17.40" font-style="italic">σ</text><text x="129.20" y="0.00" font-size="17.40">(mol</text><text x="169.84" y="0.00" font-size="17.40">m</text><line x1="186.10" y1="-11.00" x2="193.20" y2="-11.00" stroke="#000" stroke-width="1.2"/><text x="195.17" y="-7.20" font-size="12.50">2</text><text x="207.40" y="0.00" font-size="17.40">s</text><line x1="218.80" y1="-11.00" x2="225.90" y2="-11.00" stroke="#000" stroke-width="1.2"/><text x="227.55" y="-7.20" font-size="12.50">1</text><text x="238.10" y="0.00" font-size="17.40">)</text></g><rect x="253.9" y="14.6" width="231.7" height="107.2" rx="3.3" ry="3.3" fill="#fff" fill-opacity="0.8" stroke="#d0d0d0" stroke-width="1.1"/><circle cx="278.5" cy="29.9" r="1.9" fill="rgb(232,189,114)" fill-opacity="0.6" stroke="rgb(232,189,114)" stroke-opacity="0.6" stroke-width="1.3"/><circle cx="278.5" cy="55.3" r="2.9" fill="rgb(50,188,172)" fill-opacity="0.6" stroke="rgb(50,188,172)" stroke-opacity="0.6" stroke-width="1.3"/><circle cx="278.3" cy="80.8" r="3.45" fill="rgb(5,5,135)" fill-opacity="0.6" stroke="rgb(5,5,135)" stroke-opacity="0.6" stroke-width="1.3"/><line x1="259.9" y1="105.5" x2="296.7" y2="105.5" stroke="#000" stroke-width="2.1"/><text x="310.20" y="34.40" font-size="17.40">day</text><text x="310.20" y="60.00" font-size="17.40">month</text><text x="310.20" y="85.80" font-size="17.40">year</text><text x="310.52" y="111.80" font-size="17.40" font-style="italic">σ</text><line x1="327.30" y1="103.60" x2="334.90" y2="103.60" stroke="#000" stroke-width="1.15"/><line x1="327.30" y1="107.60" x2="334.90" y2="107.60" stroke="#000" stroke-width="1.15"/><text x="341.30" y="111.80" font-size="17.40">5.8</text><g stroke="#000" stroke-width="1.35"><line x1="368.20" y1="102.05" x2="376.90" y2="110.75"/><line x1="368.20" y1="110.75" x2="376.90" y2="102.05"/></g><text x="380.60" y="111.80" font-size="17.40">1</text><text x="390.90" y="111.80" font-size="18.00">0</text><line x1="404.20" y1="101.80" x2="410.60" y2="101.80" stroke="#000" stroke-width="1.2"/><text x="412.60" y="105.20" font-size="12.50">9</text><g stroke="#000" stroke-width="1.35"><line x1="423.65" y1="102.15" x2="432.35" y2="110.85"/><line x1="423.65" y1="110.85" x2="432.35" y2="102.15"/></g><text x="435.26" y="111.80" font-size="17.40" font-style="italic">N</text><line x1="451.80" y1="102.10" x2="458.20" y2="102.10" stroke="#000" stroke-width="1.2"/><text x="460.10" y="105.20" font-size="12.50" letter-spacing="0.45">0.5</text></svg></body></html>
